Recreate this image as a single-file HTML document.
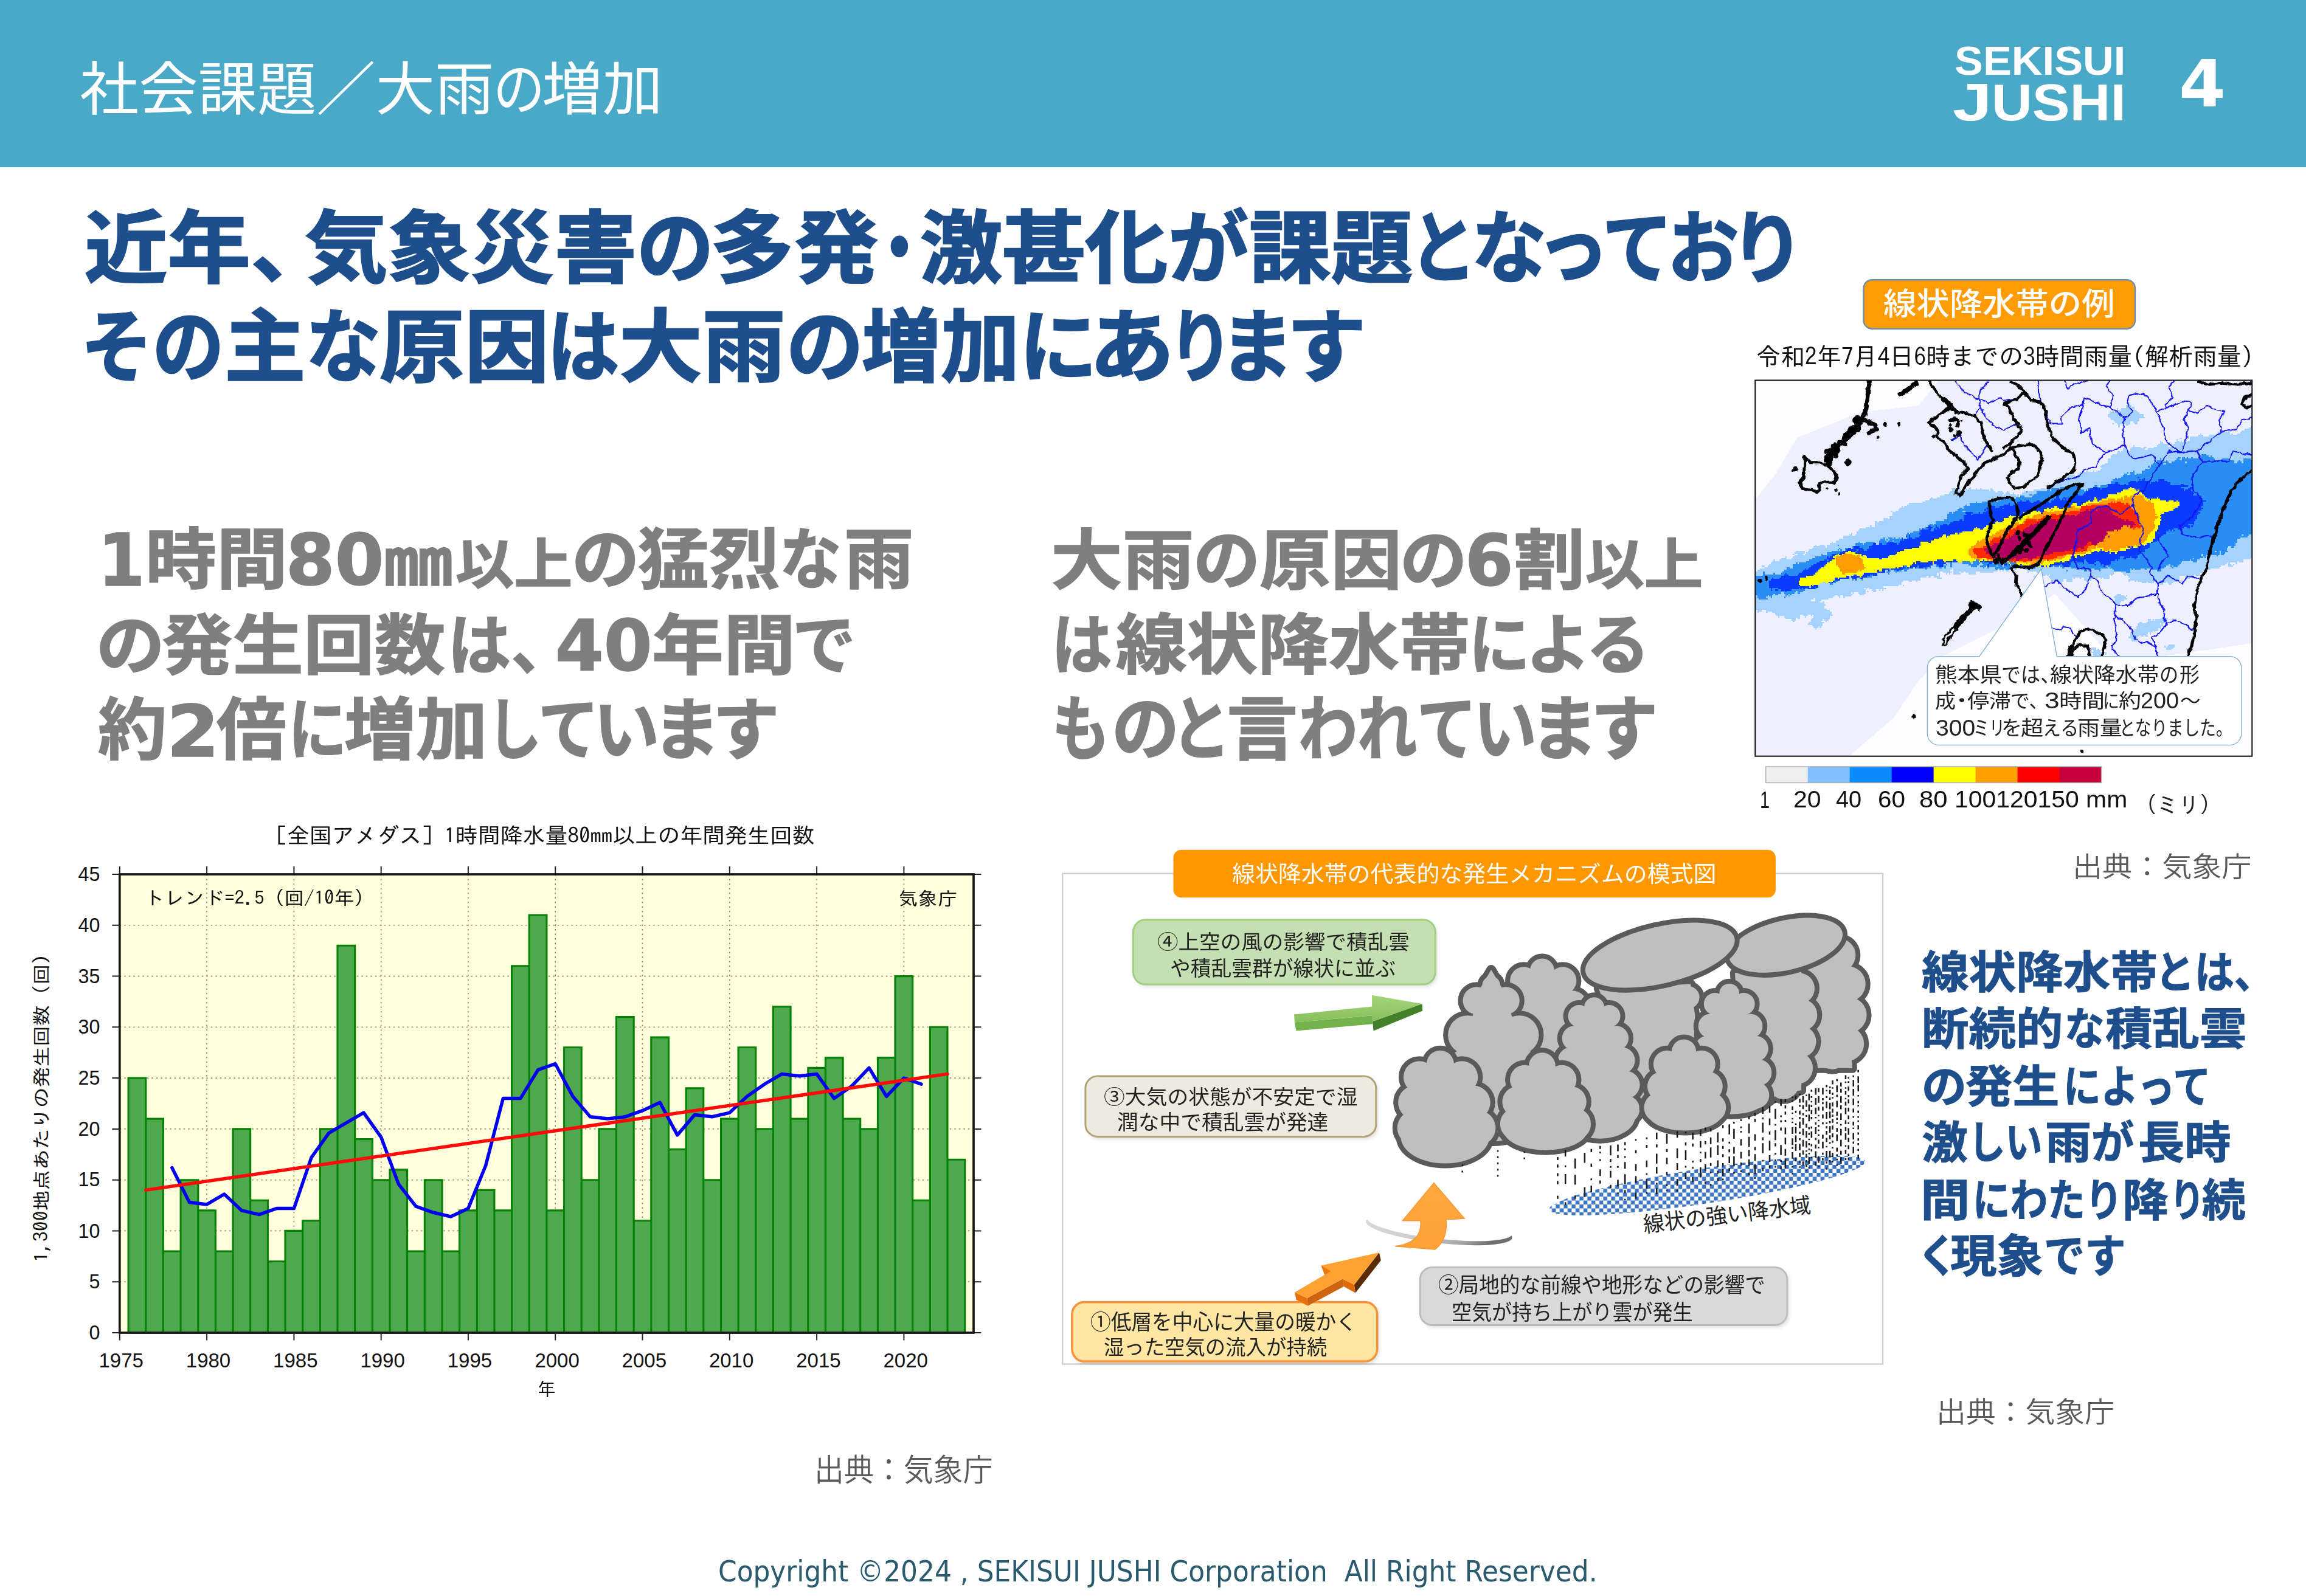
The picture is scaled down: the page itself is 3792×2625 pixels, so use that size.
<!DOCTYPE html>
<html lang="ja"><head><meta charset="utf-8"><title>社会課題／大雨の増加</title>
<style>
html,body{margin:0;padding:0;background:#fff}
body{width:3792px;height:2625px;position:relative;overflow:hidden;font-family:'Liberation Sans','Noto Sans CJK JP',sans-serif}
.t{position:absolute;white-space:nowrap;line-height:1;transform-origin:0 0;display:block}
svg{position:absolute;left:0;top:0;overflow:visible}
.hdr{position:absolute;left:0;top:0;width:3792px;height:275px;background:#4aa9c7}
</style></head>
<body>
<div class="hdr"></div>
<svg width="3792" height="2625" viewBox="0 0 3792 2625">
<rect x="196.8" y="1438.0" width="1404.2" height="754.0" fill="#ffffdc"/>
<path d="M196.8 2108.2H1601.0M196.8 2024.4H1601.0M196.8 1940.7H1601.0M196.8 1856.9H1601.0M196.8 1773.1H1601.0M196.8 1689.3H1601.0M196.8 1605.6H1601.0M196.8 1521.8H1601.0M340.1 1438.0V2192.0M483.4 1438.0V2192.0M626.7 1438.0V2192.0M769.9 1438.0V2192.0M913.2 1438.0V2192.0M1056.5 1438.0V2192.0M1199.8 1438.0V2192.0M1343.1 1438.0V2192.0M1486.4 1438.0V2192.0" stroke="#8c8c78" stroke-width="1.6" stroke-dasharray="2.5 5" fill="none"/>
<path d="M211.1 2192.0V1773.1H239.8V2192.0ZM239.8 2192.0V1840.1H268.4V2192.0ZM268.4 2192.0V2058.0H297.1V2192.0ZM297.1 2192.0V1940.7H325.8V2192.0ZM325.8 2192.0V1990.9H354.4V2192.0ZM354.4 2192.0V2058.0H383.1V2192.0ZM383.1 2192.0V1856.9H411.7V2192.0ZM411.7 2192.0V1974.2H440.4V2192.0ZM440.4 2192.0V2074.7H469.0V2192.0ZM469.0 2192.0V2024.4H497.7V2192.0ZM497.7 2192.0V2007.7H526.4V2192.0ZM526.4 2192.0V1856.9H555.0V2192.0ZM555.0 2192.0V1555.3H583.7V2192.0ZM583.7 2192.0V1873.6H612.3V2192.0ZM612.3 2192.0V1940.7H641.0V2192.0ZM641.0 2192.0V1923.9H669.6V2192.0ZM669.6 2192.0V2058.0H698.3V2192.0ZM698.3 2192.0V1940.7H727.0V2192.0ZM727.0 2192.0V2058.0H755.6V2192.0ZM755.6 2192.0V1990.9H784.3V2192.0ZM784.3 2192.0V1957.4H812.9V2192.0ZM812.9 2192.0V1990.9H841.6V2192.0ZM841.6 2192.0V1588.8H870.2V2192.0ZM870.2 2192.0V1505.0H898.9V2192.0ZM898.9 2192.0V1990.9H927.6V2192.0ZM927.6 2192.0V1722.8H956.2V2192.0ZM956.2 2192.0V1940.7H984.9V2192.0ZM984.9 2192.0V1856.9H1013.5V2192.0ZM1013.5 2192.0V1672.6H1042.2V2192.0ZM1042.2 2192.0V2007.7H1070.8V2192.0ZM1070.8 2192.0V1706.1H1099.5V2192.0ZM1099.5 2192.0V1890.4H1128.2V2192.0ZM1128.2 2192.0V1789.9H1156.8V2192.0ZM1156.8 2192.0V1940.7H1185.5V2192.0ZM1185.5 2192.0V1840.1H1214.1V2192.0ZM1214.1 2192.0V1722.8H1242.8V2192.0ZM1242.8 2192.0V1856.9H1271.4V2192.0ZM1271.4 2192.0V1655.8H1300.1V2192.0ZM1300.1 2192.0V1840.1H1328.8V2192.0ZM1328.8 2192.0V1756.4H1357.4V2192.0ZM1357.4 2192.0V1739.6H1386.1V2192.0ZM1386.1 2192.0V1840.1H1414.7V2192.0ZM1414.7 2192.0V1856.9H1443.4V2192.0ZM1443.4 2192.0V1739.6H1472.0V2192.0ZM1472.0 2192.0V1605.6H1500.7V2192.0ZM1500.7 2192.0V1974.2H1529.4V2192.0ZM1529.4 2192.0V1689.3H1558.0V2192.0ZM1558.0 2192.0V1907.2H1586.7V2192.0Z" fill="#4ea84e" stroke="#058205" stroke-width="3.1" stroke-linejoin="miter"/>
<polyline points="282.8,1920.6 311.4,1977.5 340.1,1980.9 368.7,1964.1 397.4,1990.9 426.1,1997.6 454.7,1987.6 483.4,1987.6 512.0,1903.8 540.7,1863.6 569.3,1846.8 598.0,1830.1 626.7,1870.3 655.3,1947.4 684.0,1984.2 712.6,1994.3 741.3,2001.0 769.9,1987.6 798.6,1917.2 827.3,1806.6 855.9,1806.6 884.6,1759.7 913.2,1749.7 941.9,1803.3 970.5,1836.8 999.2,1840.1 1027.9,1836.8 1056.5,1826.7 1085.2,1813.3 1113.8,1866.9 1142.5,1833.4 1171.1,1836.8 1199.8,1830.1 1228.5,1803.3 1257.1,1783.2 1285.8,1766.4 1314.4,1769.8 1343.1,1766.4 1371.7,1806.6 1400.4,1786.5 1429.1,1756.4 1457.7,1803.3 1486.4,1773.1 1515.0,1783.2" fill="none" stroke="#0000f0" stroke-width="5.5" stroke-linejoin="round" stroke-linecap="round"/>
<line x1="239.8" y1="1957.4" x2="1558.0" y2="1766.4" stroke="#ff0a0a" stroke-width="5.5" stroke-linecap="round"/>
<rect x="196.8" y="1438.0" width="1404.2" height="754.0" fill="none" stroke="#161616" stroke-width="3.7"/>
<path d="M184.3 2192.0H196.8M1601.0 2192.0h12.5M184.3 2108.2H196.8M1601.0 2108.2h12.5M184.3 2024.4H196.8M1601.0 2024.4h12.5M184.3 1940.7H196.8M1601.0 1940.7h12.5M184.3 1856.9H196.8M1601.0 1856.9h12.5M184.3 1773.1H196.8M1601.0 1773.1h12.5M184.3 1689.3H196.8M1601.0 1689.3h12.5M184.3 1605.6H196.8M1601.0 1605.6h12.5M184.3 1521.8H196.8M1601.0 1521.8h12.5M184.3 1438.0H196.8M1601.0 1438.0h12.5M196.8 2192.0v12.5M196.8 1438.0v-13M340.1 2192.0v12.5M340.1 1438.0v-13M483.4 2192.0v12.5M483.4 1438.0v-13M626.7 2192.0v12.5M626.7 1438.0v-13M769.9 2192.0v12.5M769.9 1438.0v-13M913.2 2192.0v12.5M913.2 1438.0v-13M1056.5 2192.0v12.5M1056.5 1438.0v-13M1199.8 2192.0v12.5M1199.8 1438.0v-13M1343.1 2192.0v12.5M1343.1 1438.0v-13M1486.4 2192.0v12.5M1486.4 1438.0v-13" stroke="#222" stroke-width="2" fill="none"/>
</svg>
<svg width="3792" height="2625" viewBox="0 0 3792 2625">
<defs><filter id="rough" x="-5%" y="-5%" width="110%" height="110%"><feTurbulence type="fractalNoise" baseFrequency="0.045" numOctaves="2" seed="4" result="n"/><feDisplacementMap in="SourceGraphic" in2="n" scale="16" xChannelSelector="R" yChannelSelector="G"/></filter><clipPath id="mapclip"><rect x="40" y="38" width="2006" height="1518"/></clipPath></defs>
<g transform="translate(2870 610) scale(0.40728)">
<g clip-path="url(#mapclip)" shape-rendering="crispEdges">
<rect x="40" y="38" width="2006" height="1518" fill="#eff0ff"/>
<path d="M40 38L780 38L700 140L466 167L209 270L120 420L40 520ZM1250 900L1100 1000L800 1150L700 1250L600 1400L420 1556L2046 1556L2046 1100L1500 1180Z" fill="#fdfdff"/>
<path d="M1542 132h12v6h-12zM1536 138h24v6h-24zM1536 144h18v6h-18zM1560 144h12v6h-12zM1500 150h6v6h-6zM1518 150h54v6h-54zM1506 156h6v6h-6zM1518 156h60v6h-60zM1470 162h6v6h-6zM1482 162h6v6h-6zM1494 162h6v6h-6zM1506 162h78v6h-78zM1470 168h120v6h-120zM1464 174h144v6h-144zM1464 180h144v6h-144zM1470 186h144v6h-144zM1476 192h114v6h-114zM1488 198h102v6h-102zM1494 204h60v6h-60zM1566 204h18v6h-18zM1482 210h6v6h-6zM1500 210h24v6h-24zM1530 210h24v6h-24zM1572 210h12v6h-12zM1506 216h6v6h-6zM1536 216h12v6h-12zM1506 222h6v6h-6zM2040 222h12v6h-12zM2034 228h18v6h-18zM2058 228h6v6h-6zM2016 234h54v6h-54zM1950 240h12v6h-12zM2004 240h72v6h-72zM1908 246h48v6h-48zM1998 246h66v6h-66zM1836 252h6v6h-6zM1902 252h54v6h-54zM1962 252h6v6h-6zM1986 252h84v6h-84zM1830 258h18v6h-18zM1872 258h174v6h-174zM2052 258h12v6h-12zM1794 264h252v6h-252zM1752 270h12v6h-12zM1794 270h252v6h-252zM1740 276h6v6h-6zM1776 276h6v6h-6zM1794 276h258v6h-258zM1674 282h6v6h-6zM1740 282h12v6h-12zM1758 282h6v6h-6zM1782 282h282v6h-282zM1674 288h12v6h-12zM1704 288h12v6h-12zM1734 288h330v6h-330zM1668 294h48v6h-48zM1728 294h330v6h-330zM1566 300h6v6h-6zM1662 300h48v6h-48zM1722 300h330v6h-330zM1560 306h36v6h-36zM1608 306h12v6h-12zM1650 306h402v6h-402zM1524 312h18v6h-18zM1554 312h60v6h-60zM1626 312h420v6h-420zM1524 318h24v6h-24zM1554 318h492v6h-492zM1506 324h6v6h-6zM1518 324h528v6h-528zM1500 330h546v6h-546zM1482 336h570v6h-570zM1476 342h576v6h-576zM1476 348h576v6h-576zM1464 354h582v6h-582zM1464 360h588v6h-588zM1464 366h600v6h-600zM1452 372h618v6h-618zM1440 378h630v6h-630zM1434 384h642v6h-642zM1440 390h636v6h-636zM1434 396h636v6h-636zM1362 402h6v6h-6zM1374 402h12v6h-12zM1404 402h6v6h-6zM1422 402h642v6h-642zM2070 402h6v6h-6zM1350 408h720v6h-720zM1344 414h720v6h-720zM2070 414h6v6h-6zM1302 420h30v6h-30zM1338 420h726v6h-726zM1290 426h768v6h-768zM1296 432h750v6h-750zM1260 438h6v6h-6zM1290 438h756v6h-756zM1254 444h792v6h-792zM1242 450h804v6h-804zM1236 456h810v6h-810zM1212 462h12v6h-12zM1230 462h816v6h-816zM906 468h6v6h-6zM1218 468h828v6h-828zM834 474h36v6h-36zM888 474h6v6h-6zM900 474h12v6h-12zM930 474h6v6h-6zM948 474h6v6h-6zM990 474h6v6h-6zM1194 474h858v6h-858zM834 480h36v6h-36zM888 480h96v6h-96zM990 480h12v6h-12zM1164 480h888v6h-888zM828 486h180v6h-180zM1020 486h18v6h-18zM1056 486h6v6h-6zM1128 486h924v6h-924zM822 492h222v6h-222zM1050 492h18v6h-18zM1080 492h6v6h-6zM1116 492h942v6h-942zM804 498h234v6h-234zM1044 498h48v6h-48zM1098 498h6v6h-6zM1110 498h948v6h-948zM786 504h318v6h-318zM1110 504h960v6h-960zM750 510h6v6h-6zM774 510h1296v6h-1296zM744 516h1314v6h-1314zM2070 516h6v6h-6zM726 522h1332v6h-1332zM2070 522h6v6h-6zM714 528h1362v6h-1362zM660 534h1416v6h-1416zM654 540h1392v6h-1392zM2058 540h18v6h-18zM630 546h6v6h-6zM642 546h1410v6h-1410zM2070 546h6v6h-6zM624 552h1428v6h-1428zM2070 552h6v6h-6zM618 558h1440v6h-1440zM2070 558h6v6h-6zM588 564h6v6h-6zM606 564h1452v6h-1452zM594 570h1452v6h-1452zM594 576h1452v6h-1452zM594 582h1458v6h-1458zM582 588h1488v6h-1488zM558 594h18v6h-18zM582 594h1488v6h-1488zM558 600h1500v6h-1500zM522 606h12v6h-12zM540 606h1518v6h-1518zM522 612h1542v6h-1542zM522 618h1530v6h-1530zM504 624h6v6h-6zM522 624h1524v6h-1524zM486 630h1560v6h-1560zM462 636h1596v6h-1596zM456 642h1602v6h-1602zM450 648h1608v6h-1608zM426 654h6v6h-6zM450 654h1602v6h-1602zM420 660h12v6h-12zM444 660h1608v6h-1608zM396 666h1650v6h-1650zM396 672h1650v6h-1650zM2052 672h6v6h-6zM378 678h1674v6h-1674zM366 684h1692v6h-1692zM348 690h6v6h-6zM366 690h1692v6h-1692zM342 696h1716v6h-1716zM282 702h6v6h-6zM300 702h18v6h-18zM330 702h1740v6h-1740zM276 708h48v6h-48zM330 708h1740v6h-1740zM270 714h1800v6h-1800zM258 720h1800v6h-1800zM204 726h36v6h-36zM252 726h1806v6h-1806zM198 732h42v6h-42zM246 732h1812v6h-1812zM192 738h6v6h-6zM210 738h24v6h-24zM240 738h1818v6h-1818zM198 744h1854v6h-1854zM162 750h6v6h-6zM192 750h1860v6h-1860zM144 756h24v6h-24zM186 756h1854v6h-1854zM114 762h6v6h-6zM138 762h1872v6h-1872zM108 768h1878v6h-1878zM1992 768h18v6h-18zM102 774h1842v6h-1842zM1950 774h6v6h-6zM1980 774h6v6h-6zM96 780h1842v6h-1842zM1950 780h12v6h-12zM1968 780h6v6h-6zM66 786h12v6h-12zM90 786h1008v6h-1008zM1104 786h816v6h-816zM1950 786h18v6h-18zM78 792h1020v6h-1020zM1110 792h6v6h-6zM1128 792h786v6h-786zM60 798h774v6h-774zM840 798h240v6h-240zM1086 798h12v6h-12zM1134 798h744v6h-744zM48 804h780v6h-780zM840 804h180v6h-180zM1026 804h6v6h-6zM1038 804h6v6h-6zM1050 804h12v6h-12zM1140 804h726v6h-726zM24 810h6v6h-6zM42 810h744v6h-744zM798 810h36v6h-36zM840 810h24v6h-24zM870 810h12v6h-12zM888 810h42v6h-42zM948 810h54v6h-54zM1140 810h6v6h-6zM1176 810h312v6h-312zM1518 810h330v6h-330zM42 816h732v6h-732zM780 816h6v6h-6zM810 816h6v6h-6zM822 816h6v6h-6zM840 816h30v6h-30zM900 816h30v6h-30zM1188 816h300v6h-300zM1524 816h312v6h-312zM42 822h732v6h-732zM780 822h6v6h-6zM1194 822h18v6h-18zM1218 822h6v6h-6zM1230 822h240v6h-240zM1476 822h6v6h-6zM1530 822h6v6h-6zM1542 822h270v6h-270zM1818 822h18v6h-18zM42 828h690v6h-690zM738 828h12v6h-12zM762 828h24v6h-24zM1164 828h6v6h-6zM1176 828h6v6h-6zM1224 828h246v6h-246zM1548 828h204v6h-204zM1776 828h24v6h-24zM36 834h672v6h-672zM774 834h18v6h-18zM1230 834h90v6h-90zM1326 834h6v6h-6zM1350 834h6v6h-6zM1368 834h36v6h-36zM1416 834h6v6h-6zM1434 834h6v6h-6zM1446 834h24v6h-24zM1554 834h198v6h-198zM1776 834h18v6h-18zM30 840h678v6h-678zM1236 840h48v6h-48zM1296 840h24v6h-24zM1368 840h30v6h-30zM1548 840h204v6h-204zM1770 840h12v6h-12zM24 846h612v6h-612zM660 846h12v6h-12zM690 846h6v6h-6zM1236 846h6v6h-6zM1248 846h36v6h-36zM1296 846h24v6h-24zM1374 846h12v6h-12zM1548 846h6v6h-6zM1572 846h6v6h-6zM1584 846h162v6h-162zM1758 846h12v6h-12zM24 852h606v6h-606zM1266 852h12v6h-12zM1602 852h18v6h-18zM1626 852h24v6h-24zM1662 852h36v6h-36zM1704 852h24v6h-24zM24 858h606v6h-606zM1662 858h6v6h-6zM1674 858h12v6h-12zM1710 858h12v6h-12zM18 864h600v6h-600zM636 864h6v6h-6zM18 870h540v6h-540zM18 876h462v6h-462zM486 876h6v6h-6zM498 876h72v6h-72zM18 882h6v6h-6zM30 882h456v6h-456zM510 882h18v6h-18zM540 882h6v6h-6zM552 882h6v6h-6zM30 888h456v6h-456zM492 888h6v6h-6zM516 888h12v6h-12zM18 894h408v6h-408zM432 894h6v6h-6zM456 894h30v6h-30zM36 900h396v6h-396zM462 900h18v6h-18zM1500 900h18v6h-18zM36 906h324v6h-324zM372 906h12v6h-12zM396 906h30v6h-30zM1494 906h36v6h-36zM1536 906h6v6h-6zM36 912h318v6h-318zM378 912h6v6h-6zM396 912h6v6h-6zM1488 912h48v6h-48zM36 918h240v6h-240zM282 918h54v6h-54zM1494 918h48v6h-48zM18 924h12v6h-12zM36 924h228v6h-228zM282 924h24v6h-24zM1494 924h36v6h-36zM18 930h282v6h-282zM312 930h6v6h-6zM1494 930h24v6h-24zM18 936h300v6h-300zM1494 936h18v6h-18zM18 942h306v6h-306zM24 948h294v6h-294zM18 954h300v6h-300zM30 960h300v6h-300zM48 966h18v6h-18zM84 966h258v6h-258zM48 972h6v6h-6zM84 972h6v6h-6zM108 972h240v6h-240zM120 978h228v6h-228zM126 984h96v6h-96zM234 984h18v6h-18zM264 984h6v6h-6zM276 984h78v6h-78zM132 990h6v6h-6zM156 990h66v6h-66zM240 990h6v6h-6zM276 990h66v6h-66zM162 996h42v6h-42zM210 996h12v6h-12zM270 996h72v6h-72zM1680 996h24v6h-24zM186 1002h18v6h-18zM264 1002h48v6h-48zM318 1002h18v6h-18zM1626 1002h12v6h-12zM1644 1002h6v6h-6zM1656 1002h48v6h-48zM192 1008h6v6h-6zM264 1008h42v6h-42zM324 1008h6v6h-6zM1626 1008h78v6h-78zM258 1014h60v6h-60zM1590 1014h12v6h-12zM1620 1014h84v6h-84zM252 1020h60v6h-60zM1584 1020h90v6h-90zM1680 1020h6v6h-6zM270 1026h42v6h-42zM1584 1026h102v6h-102zM276 1032h18v6h-18zM300 1032h6v6h-6zM1578 1032h102v6h-102zM282 1038h6v6h-6zM1578 1038h90v6h-90zM1674 1038h6v6h-6zM1572 1044h96v6h-96zM1680 1044h6v6h-6zM1566 1050h78v6h-78zM1650 1050h6v6h-6zM1554 1056h72v6h-72zM1632 1056h6v6h-6zM1554 1062h66v6h-66zM1554 1068h36v6h-36zM1596 1068h12v6h-12zM1614 1068h12v6h-12zM1548 1074h36v6h-36zM1560 1080h24v6h-24zM1560 1086h24v6h-24zM1710 1104h24v6h-24zM1692 1110h6v6h-6zM1704 1110h30v6h-30zM1398 1116h18v6h-18zM1698 1116h30v6h-30zM1398 1122h18v6h-18zM1422 1122h6v6h-6zM1698 1122h24v6h-24zM1392 1128h6v6h-6zM1404 1128h30v6h-30zM1398 1134h60v6h-60zM1386 1140h6v6h-6zM1404 1140h36v6h-36zM1452 1140h6v6h-6zM1404 1146h36v6h-36zM1404 1152h36v6h-36zM1404 1158h18v6h-18zM1434 1158h12v6h-12z" fill="#a6d2ff"/>
<path d="M1842 336h18v6h-18zM1842 342h30v6h-30zM1878 342h6v6h-6zM1746 348h12v6h-12zM1764 348h12v6h-12zM1782 348h6v6h-6zM1800 348h6v6h-6zM1830 348h60v6h-60zM1674 354h6v6h-6zM1740 354h12v6h-12zM1764 354h132v6h-132zM1926 354h30v6h-30zM2010 354h30v6h-30zM1662 360h24v6h-24zM1698 360h6v6h-6zM1734 360h240v6h-240zM1992 360h6v6h-6zM2010 360h42v6h-42zM1650 366h6v6h-6zM1662 366h48v6h-48zM1722 366h54v6h-54zM1782 366h192v6h-192zM1986 366h18v6h-18zM2010 366h54v6h-54zM1644 372h42v6h-42zM1698 372h366v6h-366zM1638 378h420v6h-420zM1626 384h6v6h-6zM1638 384h420v6h-420zM1632 390h438v6h-438zM1614 396h456v6h-456zM1566 402h6v6h-6zM1602 402h462v6h-462zM1542 408h6v6h-6zM1554 408h18v6h-18zM1602 408h450v6h-450zM1530 414h12v6h-12zM1554 414h18v6h-18zM1578 414h468v6h-468zM1524 420h522v6h-522zM1518 426h528v6h-528zM2052 426h6v6h-6zM1494 432h6v6h-6zM1506 432h540v6h-540zM1482 438h564v6h-564zM1476 444h570v6h-570zM1476 450h570v6h-570zM1458 456h588v6h-588zM1320 462h24v6h-24zM1410 462h12v6h-12zM1434 462h612v6h-612zM1272 468h30v6h-30zM1308 468h42v6h-42zM1404 468h642v6h-642zM1236 474h30v6h-30zM1272 474h84v6h-84zM1386 474h666v6h-666zM1218 480h12v6h-12zM1236 480h132v6h-132zM1374 480h6v6h-6zM1386 480h666v6h-666zM1134 486h6v6h-6zM1176 486h876v6h-876zM1176 492h882v6h-882zM1146 498h12v6h-12zM1164 498h894v6h-894zM1110 504h18v6h-18zM1158 504h900v6h-900zM1092 510h972v6h-972zM1032 516h1026v6h-1026zM978 522h6v6h-6zM1020 522h1038v6h-1038zM930 528h6v6h-6zM954 528h1110v6h-1110zM906 534h1152v6h-1152zM888 540h6v6h-6zM906 540h1140v6h-1140zM882 546h1170v6h-1170zM864 552h12v6h-12zM882 552h1170v6h-1170zM858 558h1200v6h-1200zM846 564h30v6h-30zM888 564h1170v6h-1170zM822 570h12v6h-12zM840 570h1206v6h-1206zM816 576h1230v6h-1230zM816 582h1236v6h-1236zM816 588h1254v6h-1254zM816 594h1248v6h-1248zM804 600h1254v6h-1254zM768 606h1290v6h-1290zM768 612h1296v6h-1296zM744 618h12v6h-12zM762 618h1290v6h-1290zM738 624h1308v6h-1308zM726 630h1320v6h-1320zM702 636h6v6h-6zM714 636h1344v6h-1344zM702 642h1350v6h-1350zM678 648h1368v6h-1368zM654 654h6v6h-6zM666 654h1386v6h-1386zM648 660h1356v6h-1356zM2010 660h24v6h-24zM2046 660h6v6h-6zM648 666h1380v6h-1380zM558 672h6v6h-6zM576 672h18v6h-18zM600 672h6v6h-6zM618 672h6v6h-6zM630 672h6v6h-6zM654 672h1344v6h-1344zM546 678h18v6h-18zM570 678h6v6h-6zM582 678h1404v6h-1404zM540 684h30v6h-30zM576 684h18v6h-18zM600 684h1386v6h-1386zM456 690h6v6h-6zM486 690h36v6h-36zM540 690h1446v6h-1446zM444 696h30v6h-30zM480 696h48v6h-48zM540 696h1440v6h-1440zM372 702h6v6h-6zM444 702h1536v6h-1536zM432 708h1518v6h-1518zM1962 708h12v6h-12zM378 714h6v6h-6zM402 714h24v6h-24zM432 714h1512v6h-1512zM372 720h6v6h-6zM384 720h6v6h-6zM402 720h1542v6h-1542zM348 726h1548v6h-1548zM1902 726h12v6h-12zM1920 726h30v6h-30zM330 732h1584v6h-1584zM1920 732h18v6h-18zM306 738h6v6h-6zM330 738h1512v6h-1512zM1848 738h66v6h-66zM1920 738h12v6h-12zM306 744h1536v6h-1536zM1848 744h12v6h-12zM1866 744h6v6h-6zM1902 744h6v6h-6zM282 750h1566v6h-1566zM1854 750h6v6h-6zM270 756h1536v6h-1536zM1812 756h24v6h-24zM258 762h1536v6h-1536zM1800 762h24v6h-24zM246 768h1518v6h-1518zM1806 768h18v6h-18zM204 774h6v6h-6zM216 774h594v6h-594zM828 774h6v6h-6zM876 774h36v6h-36zM918 774h30v6h-30zM954 774h48v6h-48zM1008 774h36v6h-36zM1050 774h708v6h-708zM192 780h564v6h-564zM768 780h36v6h-36zM810 780h6v6h-6zM828 780h6v6h-6zM900 780h42v6h-42zM960 780h78v6h-78zM1044 780h138v6h-138zM1194 780h516v6h-516zM1716 780h36v6h-36zM192 786h558v6h-558zM768 786h42v6h-42zM828 786h6v6h-6zM912 786h24v6h-24zM948 786h24v6h-24zM978 786h36v6h-36zM1020 786h18v6h-18zM1044 786h54v6h-54zM1104 786h72v6h-72zM1188 786h54v6h-54zM1248 786h18v6h-18zM1272 786h186v6h-186zM1464 786h234v6h-234zM1716 786h6v6h-6zM1728 786h18v6h-18zM168 792h12v6h-12zM192 792h486v6h-486zM684 792h54v6h-54zM744 792h6v6h-6zM780 792h12v6h-12zM804 792h6v6h-6zM960 792h6v6h-6zM978 792h6v6h-6zM1008 792h84v6h-84zM1110 792h6v6h-6zM1134 792h36v6h-36zM1278 792h12v6h-12zM1314 792h150v6h-150zM1470 792h222v6h-222zM1722 792h6v6h-6zM168 798h414v6h-414zM588 798h72v6h-72zM726 798h6v6h-6zM1008 798h12v6h-12zM1026 798h18v6h-18zM1050 798h18v6h-18zM1140 798h6v6h-6zM1338 798h12v6h-12zM1356 798h42v6h-42zM1410 798h24v6h-24zM1482 798h72v6h-72zM1560 798h6v6h-6zM1572 798h24v6h-24zM1614 798h6v6h-6zM1638 798h42v6h-42zM156 804h408v6h-408zM576 804h12v6h-12zM600 804h30v6h-30zM642 804h12v6h-12zM1296 804h6v6h-6zM1368 804h12v6h-12zM1428 804h6v6h-6zM1488 804h66v6h-66zM1662 804h18v6h-18zM72 810h6v6h-6zM150 810h414v6h-414zM570 810h12v6h-12zM606 810h6v6h-6zM1536 810h18v6h-18zM72 816h6v6h-6zM114 816h6v6h-6zM144 816h390v6h-390zM576 816h6v6h-6zM72 822h462v6h-462zM42 828h378v6h-378zM426 828h84v6h-84zM42 834h378v6h-378zM432 834h18v6h-18zM462 834h12v6h-12zM30 840h354v6h-354zM432 840h6v6h-6zM444 840h6v6h-6zM468 840h6v6h-6zM24 846h348v6h-348zM24 852h288v6h-288zM324 852h42v6h-42zM24 858h276v6h-276zM342 858h12v6h-12zM30 864h264v6h-264zM18 870h240v6h-240zM264 870h30v6h-30zM24 876h264v6h-264zM18 882h6v6h-6zM30 882h210v6h-210zM36 888h168v6h-168zM210 888h24v6h-24zM36 894h108v6h-108zM156 894h42v6h-42zM210 894h12v6h-12zM36 900h78v6h-78zM120 900h12v6h-12zM162 900h12v6h-12zM180 900h6v6h-6zM36 906h6v6h-6zM48 906h42v6h-42zM96 906h12v6h-12zM162 906h6v6h-6zM174 906h6v6h-6zM48 912h36v6h-36zM102 912h6v6h-6zM156 912h6v6h-6zM54 918h36v6h-36z" fill="#2a8cf5"/>
<path d="M1584 426h6v6h-6zM1608 432h6v6h-6zM1590 438h6v6h-6zM1602 438h12v6h-12zM1668 438h24v6h-24zM1554 444h24v6h-24zM1584 444h48v6h-48zM1656 444h6v6h-6zM1668 444h36v6h-36zM1494 450h12v6h-12zM1548 450h84v6h-84zM1638 450h78v6h-78zM1464 456h48v6h-48zM1530 456h6v6h-6zM1548 456h168v6h-168zM1758 456h12v6h-12zM1464 462h324v6h-324zM1404 468h18v6h-18zM1458 468h300v6h-300zM1794 468h12v6h-12zM1392 474h42v6h-42zM1440 474h330v6h-330zM1788 474h18v6h-18zM1386 480h384v6h-384zM1776 480h24v6h-24zM1806 480h6v6h-6zM1374 486h432v6h-432zM1326 492h18v6h-18zM1368 492h444v6h-444zM1326 498h18v6h-18zM1362 498h444v6h-444zM1254 504h12v6h-12zM1320 504h510v6h-510zM1836 504h6v6h-6zM1254 510h12v6h-12zM1284 510h12v6h-12zM1302 510h540v6h-540zM1248 516h24v6h-24zM1278 516h6v6h-6zM1290 516h6v6h-6zM1302 516h540v6h-540zM1110 522h6v6h-6zM1134 522h12v6h-12zM1176 522h12v6h-12zM1212 522h6v6h-6zM1236 522h624v6h-624zM1098 528h54v6h-54zM1164 528h42v6h-42zM1212 528h12v6h-12zM1236 528h612v6h-612zM1062 534h6v6h-6zM1098 534h750v6h-750zM1044 540h24v6h-24zM1080 540h768v6h-768zM990 546h18v6h-18zM1026 546h816v6h-816zM972 552h66v6h-66zM1044 552h804v6h-804zM966 558h6v6h-6zM978 558h864v6h-864zM972 564h858v6h-858zM888 570h30v6h-30zM942 570h6v6h-6zM960 570h876v6h-876zM894 576h18v6h-18zM918 576h912v6h-912zM882 582h942v6h-942zM882 588h942v6h-942zM882 594h942v6h-942zM864 600h12v6h-12zM882 600h936v6h-936zM840 606h972v6h-972zM828 612h984v6h-984zM798 618h18v6h-18zM822 618h966v6h-966zM1806 618h6v6h-6zM738 624h12v6h-12zM768 624h6v6h-6zM786 624h1008v6h-1008zM1800 624h6v6h-6zM732 630h24v6h-24zM768 630h12v6h-12zM786 630h984v6h-984zM1782 630h12v6h-12zM714 636h6v6h-6zM738 636h12v6h-12zM762 636h6v6h-6zM774 636h954v6h-954zM1746 636h6v6h-6zM1758 636h6v6h-6zM708 642h42v6h-42zM762 642h948v6h-948zM1716 642h6v6h-6zM1728 642h6v6h-6zM708 648h990v6h-990zM702 654h996v6h-996zM660 660h6v6h-6zM708 660h978v6h-978zM648 666h6v6h-6zM660 666h6v6h-6zM702 666h978v6h-978zM630 672h6v6h-6zM660 672h12v6h-12zM684 672h984v6h-984zM630 678h6v6h-6zM642 678h1026v6h-1026zM624 684h1038v6h-1038zM576 690h24v6h-24zM624 690h1020v6h-1020zM516 696h12v6h-12zM540 696h12v6h-12zM570 696h42v6h-42zM618 696h1014v6h-1014zM510 702h1122v6h-1122zM438 708h24v6h-24zM498 708h1134v6h-1134zM414 714h12v6h-12zM438 714h36v6h-36zM498 714h1128v6h-1128zM408 720h42v6h-42zM456 720h24v6h-24zM492 720h1122v6h-1122zM396 726h48v6h-48zM450 726h1164v6h-1164zM384 732h1212v6h-1212zM348 738h18v6h-18zM372 738h1218v6h-1218zM348 744h1236v6h-1236zM330 750h6v6h-6zM342 750h1170v6h-1170zM1530 750h24v6h-24zM1560 750h24v6h-24zM330 756h1182v6h-1182zM1524 756h12v6h-12zM1572 756h6v6h-6zM318 762h12v6h-12zM336 762h594v6h-594zM942 762h426v6h-426zM1374 762h120v6h-120zM1500 762h6v6h-6zM300 768h534v6h-534zM840 768h36v6h-36zM906 768h12v6h-12zM942 768h18v6h-18zM966 768h96v6h-96zM1074 768h246v6h-246zM1338 768h30v6h-30zM1380 768h36v6h-36zM1428 768h48v6h-48zM288 774h522v6h-522zM984 774h12v6h-12zM1014 774h6v6h-6zM1050 774h6v6h-6zM1062 774h6v6h-6zM1092 774h222v6h-222zM1362 774h6v6h-6zM1386 774h24v6h-24zM1434 774h42v6h-42zM276 780h480v6h-480zM774 780h24v6h-24zM978 780h6v6h-6zM1044 780h12v6h-12zM1062 780h12v6h-12zM1092 780h90v6h-90zM1194 780h78v6h-78zM1278 780h36v6h-36zM1410 780h6v6h-6zM1434 780h6v6h-6zM1446 780h24v6h-24zM264 786h378v6h-378zM654 786h42v6h-42zM702 786h42v6h-42zM780 786h18v6h-18zM978 786h6v6h-6zM1092 786h6v6h-6zM1104 786h6v6h-6zM1116 786h12v6h-12zM1140 786h30v6h-30zM1188 786h48v6h-48zM1284 786h24v6h-24zM1446 786h6v6h-6zM258 792h390v6h-390zM654 792h6v6h-6zM666 792h12v6h-12zM684 792h6v6h-6zM702 792h18v6h-18zM726 792h6v6h-6zM1110 792h6v6h-6zM1152 792h18v6h-18zM240 798h6v6h-6zM252 798h330v6h-330zM588 798h48v6h-48zM234 804h330v6h-330zM576 804h6v6h-6zM612 804h6v6h-6zM228 810h336v6h-336zM162 816h6v6h-6zM216 816h318v6h-318zM156 822h18v6h-18zM210 822h294v6h-294zM516 822h18v6h-18zM144 828h276v6h-276zM426 828h66v6h-66zM108 834h6v6h-6zM138 834h282v6h-282zM432 834h18v6h-18zM462 834h12v6h-12zM102 840h282v6h-282zM444 840h6v6h-6zM96 846h264v6h-264zM96 852h216v6h-216zM324 852h18v6h-18zM348 852h6v6h-6zM96 858h204v6h-204zM96 864h198v6h-198zM96 870h162v6h-162zM264 870h30v6h-30zM102 876h6v6h-6zM132 876h84v6h-84zM222 876h6v6h-6zM234 876h6v6h-6zM252 876h30v6h-30zM102 882h6v6h-6zM120 882h12v6h-12zM144 882h42v6h-42zM162 888h6v6h-6z" fill="#0a3cff"/>
<path d="M1554 468h6v6h-6zM1548 474h24v6h-24zM1524 480h54v6h-54zM1584 480h6v6h-6zM1518 486h78v6h-78zM1500 492h102v6h-102zM1464 498h144v6h-144zM1464 504h150v6h-150zM1410 510h6v6h-6zM1458 510h162v6h-162zM1662 510h6v6h-6zM1410 516h12v6h-12zM1440 516h192v6h-192zM1638 516h36v6h-36zM1386 522h6v6h-6zM1404 522h18v6h-18zM1428 522h270v6h-270zM1710 522h18v6h-18zM1740 522h6v6h-6zM1374 528h378v6h-378zM1320 534h18v6h-18zM1362 534h390v6h-390zM1314 540h24v6h-24zM1356 540h396v6h-396zM1248 546h12v6h-12zM1314 546h432v6h-432zM1218 552h6v6h-6zM1236 552h30v6h-30zM1284 552h450v6h-450zM1206 558h522v6h-522zM1158 564h18v6h-18zM1182 564h6v6h-6zM1206 564h504v6h-504zM1122 570h6v6h-6zM1152 570h42v6h-42zM1200 570h492v6h-492zM1140 576h540v6h-540zM1068 582h6v6h-6zM1122 582h552v6h-552zM1062 588h618v6h-618zM1044 594h630v6h-630zM1044 600h636v6h-636zM1014 606h6v6h-6zM1038 606h636v6h-636zM1008 612h666v6h-666zM984 618h690v6h-690zM972 624h696v6h-696zM930 630h6v6h-6zM966 630h702v6h-702zM924 636h24v6h-24zM960 636h708v6h-708zM918 642h744v6h-744zM876 648h780v6h-780zM846 654h12v6h-12zM864 654h792v6h-792zM798 660h12v6h-12zM828 660h828v6h-828zM792 666h18v6h-18zM816 666h840v6h-840zM780 672h876v6h-876zM762 678h882v6h-882zM750 684h894v6h-894zM708 690h30v6h-30zM750 690h888v6h-888zM708 696h912v6h-912zM708 702h888v6h-888zM1608 702h6v6h-6zM702 708h846v6h-846zM1554 708h6v6h-6zM1566 708h18v6h-18zM672 714h882v6h-882zM642 720h792v6h-792zM1440 720h96v6h-96zM414 726h12v6h-12zM624 726h786v6h-786zM1422 726h6v6h-6zM1452 726h12v6h-12zM1470 726h36v6h-36zM402 732h42v6h-42zM612 732h786v6h-786zM1470 732h6v6h-6zM1494 732h6v6h-6zM372 738h6v6h-6zM390 738h78v6h-78zM606 738h768v6h-768zM360 744h108v6h-108zM474 744h12v6h-12zM582 744h756v6h-756zM1350 744h18v6h-18zM354 750h138v6h-138zM576 750h738v6h-738zM1332 750h6v6h-6zM360 756h180v6h-180zM552 756h762v6h-762zM348 762h426v6h-426zM798 762h42v6h-42zM852 762h78v6h-78zM942 762h18v6h-18zM966 762h342v6h-342zM342 768h348v6h-348zM708 768h30v6h-30zM756 768h6v6h-6zM804 768h6v6h-6zM858 768h18v6h-18zM906 768h12v6h-12zM942 768h6v6h-6zM1020 768h42v6h-42zM1074 768h198v6h-198zM1278 768h12v6h-12zM330 774h348v6h-348zM684 774h6v6h-6zM756 774h6v6h-6zM1062 774h6v6h-6zM1092 774h156v6h-156zM324 780h348v6h-348zM1068 780h6v6h-6zM1092 780h18v6h-18zM1116 780h66v6h-66zM1194 780h36v6h-36zM318 786h318v6h-318zM654 786h12v6h-12zM1164 786h6v6h-6zM1188 786h6v6h-6zM1206 786h6v6h-6zM1218 786h6v6h-6zM306 792h300v6h-300zM612 792h6v6h-6zM300 798h252v6h-252zM294 804h240v6h-240zM540 804h12v6h-12zM288 810h246v6h-246zM282 816h198v6h-198zM276 822h162v6h-162zM450 822h24v6h-24zM246 828h162v6h-162zM462 828h6v6h-6zM222 834h138v6h-138zM372 834h6v6h-6zM222 840h138v6h-138zM216 846h138v6h-138zM216 852h96v6h-96zM324 852h12v6h-12zM216 858h84v6h-84zM222 864h42v6h-42zM270 864h6v6h-6z" fill="#ffff00"/>
<path d="M1566 498h12v6h-12zM1590 498h6v6h-6zM1530 504h12v6h-12zM1554 504h54v6h-54zM1518 510h6v6h-6zM1530 510h78v6h-78zM1464 516h30v6h-30zM1500 516h24v6h-24zM1530 516h84v6h-84zM1440 522h180v6h-180zM1626 522h6v6h-6zM1428 528h210v6h-210zM1386 534h264v6h-264zM1374 540h276v6h-276zM1314 546h18v6h-18zM1356 546h294v6h-294zM1290 552h360v6h-360zM1236 558h6v6h-6zM1284 558h372v6h-372zM1206 564h12v6h-12zM1230 564h6v6h-6zM1248 564h408v6h-408zM1200 570h456v6h-456zM1176 576h486v6h-486zM1164 582h492v6h-492zM1140 588h6v6h-6zM1158 588h510v6h-510zM1134 594h528v6h-528zM1128 600h528v6h-528zM1122 606h528v6h-528zM1074 612h6v6h-6zM1086 612h18v6h-18zM1116 612h534v6h-534zM1074 618h582v6h-582zM1074 624h582v6h-582zM1050 630h6v6h-6zM1068 630h588v6h-588zM1044 636h606v6h-606zM1026 642h618v6h-618zM1014 648h624v6h-624zM1008 654h624v6h-624zM996 660h630v6h-630zM984 666h642v6h-642zM978 672h642v6h-642zM954 678h666v6h-666zM936 684h6v6h-6zM948 684h666v6h-666zM936 690h672v6h-672zM930 696h672v6h-672zM924 702h648v6h-648zM1578 702h12v6h-12zM912 708h504v6h-504zM1422 708h114v6h-114zM1542 708h6v6h-6zM1554 708h6v6h-6zM906 714h510v6h-510zM1446 714h66v6h-66zM900 720h498v6h-498zM1446 720h24v6h-24zM1476 720h36v6h-36zM900 726h486v6h-486zM1392 726h6v6h-6zM402 732h6v6h-6zM900 732h474v6h-474zM396 738h36v6h-36zM456 738h6v6h-6zM900 738h420v6h-420zM384 744h60v6h-60zM450 744h12v6h-12zM906 744h390v6h-390zM366 750h96v6h-96zM912 750h378v6h-378zM366 756h102v6h-102zM924 756h30v6h-30zM972 756h306v6h-306zM366 762h108v6h-108zM942 762h6v6h-6zM978 762h6v6h-6zM990 762h222v6h-222zM1218 762h24v6h-24zM1248 762h6v6h-6zM366 768h108v6h-108zM1020 768h6v6h-6zM1074 768h132v6h-132zM1224 768h6v6h-6zM366 774h108v6h-108zM1092 774h6v6h-6zM1134 774h6v6h-6zM1152 774h30v6h-30zM1194 774h6v6h-6zM366 780h114v6h-114zM1146 780h30v6h-30zM372 786h108v6h-108zM378 792h108v6h-108zM384 798h96v6h-96zM384 804h72v6h-72zM462 804h6v6h-6zM390 810h60v6h-60zM390 816h12v6h-12z" fill="#ff9d00"/>
<path d="M1476 528h6v6h-6zM1488 528h6v6h-6zM1500 528h18v6h-18zM1464 534h66v6h-66zM1536 534h12v6h-12zM1374 540h6v6h-6zM1398 540h156v6h-156zM1356 546h198v6h-198zM1356 552h204v6h-204zM1350 558h216v6h-216zM1290 564h6v6h-6zM1308 564h270v6h-270zM1284 570h294v6h-294zM1236 576h18v6h-18zM1266 576h318v6h-318zM1230 582h354v6h-354zM1200 588h390v6h-390zM1194 594h396v6h-396zM1134 600h42v6h-42zM1182 600h408v6h-408zM1128 606h462v6h-462zM1128 612h462v6h-462zM1110 618h480v6h-480zM1098 624h426v6h-426zM1542 624h6v6h-6zM1554 624h48v6h-48zM1092 630h426v6h-426zM1554 630h24v6h-24zM1584 630h12v6h-12zM1062 636h12v6h-12zM1080 636h438v6h-438zM1566 636h6v6h-6zM1062 642h426v6h-426zM1500 642h6v6h-6zM1044 648h6v6h-6zM1062 648h396v6h-396zM1050 654h414v6h-414zM1038 660h420v6h-420zM1026 666h6v6h-6zM1038 666h414v6h-414zM1464 666h6v6h-6zM1002 672h450v6h-450zM996 678h450v6h-450zM990 684h456v6h-456zM990 690h438v6h-438zM984 696h438v6h-438zM972 702h426v6h-426zM1410 702h6v6h-6zM960 708h426v6h-426zM924 714h456v6h-456zM918 720h462v6h-462zM918 726h432v6h-432zM1356 726h6v6h-6zM924 732h408v6h-408zM930 738h366v6h-366zM936 744h348v6h-348zM936 750h324v6h-324zM978 756h270v6h-270zM1002 762h36v6h-36zM1056 762h102v6h-102zM1218 762h6v6h-6zM1074 768h6v6h-6zM1086 768h6v6h-6zM1122 768h12v6h-12z" fill="#ff2a00"/>
<path d="M1428 546h6v6h-6zM1440 546h30v6h-30zM1428 552h48v6h-48zM1374 558h12v6h-12zM1392 558h24v6h-24zM1422 558h54v6h-54zM1368 564h108v6h-108zM1350 570h132v6h-132zM1344 576h138v6h-138zM1284 582h24v6h-24zM1314 582h18v6h-18zM1338 582h156v6h-156zM1272 588h234v6h-234zM1272 594h246v6h-246zM1200 600h12v6h-12zM1218 600h36v6h-36zM1260 600h270v6h-270zM1536 600h12v6h-12zM1188 606h378v6h-378zM1176 612h396v6h-396zM1152 618h6v6h-6zM1164 618h414v6h-414zM1146 624h378v6h-378zM1542 624h6v6h-6zM1554 624h12v6h-12zM1134 630h384v6h-384zM1554 630h6v6h-6zM1128 636h390v6h-390zM1122 642h366v6h-366zM1500 642h6v6h-6zM1092 648h366v6h-366zM1086 654h378v6h-378zM1080 660h378v6h-378zM1062 666h6v6h-6zM1074 666h378v6h-378zM1464 666h6v6h-6zM1062 672h390v6h-390zM1044 678h402v6h-402zM1038 684h408v6h-408zM1026 690h360v6h-360zM1398 690h30v6h-30zM1002 696h378v6h-378zM1398 696h24v6h-24zM996 702h378v6h-378zM984 708h384v6h-384zM966 714h378v6h-378zM1356 714h12v6h-12zM966 720h348v6h-348zM1320 720h6v6h-6zM1332 720h6v6h-6zM972 726h318v6h-318zM1326 726h6v6h-6zM972 732h270v6h-270zM984 738h240v6h-240zM990 744h216v6h-216zM1008 750h168v6h-168zM1020 756h12v6h-12zM1038 756h12v6h-12zM1056 756h30v6h-30zM1092 756h24v6h-24zM1140 756h18v6h-18zM1092 762h12v6h-12zM1152 762h6v6h-6z" fill="#b4005f"/>
</g>
<g clip-path="url(#mapclip)"><g filter="url(#rough)" fill="none" stroke-linejoin="round" stroke-linecap="round">
<path d="M1183 40L1188 105L1208 150L1233 215L1278 215L1273 185L1313 150L1363 135L1368 110L1473 150L1533 190L1563 165L1543 125L1548 100L1583 90L1623 100L1663 165L1698 150L1693 135L1728 105L1708 65L1733 40M1363 135L1348 200L1358 250L1388 235L1403 300L1443 320L1458 330L1428 360L1413 390L1383 390M1473 150L1483 100L1458 60L1473 40M1533 190L1523 250L1533 300L1458 330M1533 300L1548 340L1573 355L1643 340L1673 380L1693 350L1713 325L1753 330L1823 325L1838 350L1843 365L1953 365L1973 325L2023 335L2046 340M1663 165L1688 230L1703 290L1743 320L1753 330M1698 150L1733 135L1783 120L1803 130L1788 160L1773 200L1788 235L1778 280L1763 320M1788 160L1823 170L1863 140L1903 160L1938 165L1913 200L1923 245L1823 325M1923 245L1983 235L2003 200L2046 190M1673 380L1643 425L1618 460L1613 480L1568 500L1563 540L1588 600L1608 650L1593 690L1593 730L1613 750L1633 780L1643 798L1633 810L1643 828L1668 863L1663 898L1673 943L1693 963L1688 998L1703 1018L1733 1008L1768 1018L1803 1048L1813 1043M1843 365L1823 400L1803 430L1808 480L1843 520L1823 565L1793 600L1753 625L1763 660L1823 675L1863 665L1893 670M1393 575L1413 555L1458 545L1493 565L1513 580L1563 540M1393 575L1398 615L1343 645L1333 700L1323 750L1343 798L1388 798L1393 828L1373 883L1343 913L1313 893L1283 873L1258 848L1208 868M1668 675L1693 725L1708 745L1683 775L1668 798M1393 828L1423 848L1438 893L1473 918L1498 943L1543 948L1573 918L1613 913L1663 898M1498 943L1488 988L1498 1038L1498 1088L1478 1108L1493 1138L1508 1153M1488 988L1523 1008L1553 1033L1573 1078L1593 1098L1623 1093L1658 1118L1668 1153M1703 1018L1673 1058L1643 1078L1658 1118M1668 863L1708 828L1743 848L1768 858L1783 828L1828 838M1243 1038L1273 1048L1283 1033L1313 1038L1323 1063L1343 1078M850 45L890 90L940 115L950 75L980 45M940 115L980 130L1025 110L1043 120L1093 115M950 150L975 190L1000 220L1043 240L1098 215M940 115L950 150L925 180M1223 470L1290 440L1340 430L1383 390M1290 40L1300 70L1340 50L1380 40M830 280L870 260L880 300L915 330L940 360L960 330L980 300" stroke="#1414f0" stroke-width="5.2"/>
<path d="M1073 45L1103 60L1128 85L1153 120L1193 125L1213 165L1218 210L1233 250L1243 280L1278 300L1293 320L1323 330L1333 370L1328 400L1303 415L1273 440L1243 460L1223 470M1128 85L1093 115L1043 135L1063 145L1083 190L1098 215L1118 240L1093 270L1063 300L1043 310M1073 310L1118 300L1158 298L1188 320L1198 360L1188 400L1178 430L1143 450L1123 470L1088 475L1068 450L1058 430L1083 405L1103 395L1108 365L1093 340L1073 310M745 45L765 80L800 115L825 150L850 165L925 180L950 210L960 260L980 300L995 320M825 150L780 180L740 210L780 240L770 265L800 285L820 320L850 340L880 370L900 395L870 425L860 460L850 495L865 505L880 480L900 450L925 425L940 400L970 370L1000 355L1043 340L1073 310M240 345L260 370L300 370L330 380L350 400L370 425L360 450L320 450L295 460L300 480L290 490L270 480L230 475L220 450L235 430L240 380L240 345M985 530L1020 515L1075 510L1095 540L1100 580L1085 610L1060 640L1040 680L1020 720L1000 750L985 720L975 680L985 640L1000 600L985 560L985 530M1108 595L1133 575L1168 555L1208 530L1243 505L1283 480L1323 460L1363 455L1343 480L1323 505L1303 530L1293 560L1278 590L1263 625L1243 665L1223 700L1203 740L1183 780L1150 795L1110 790L1085 790L1073 798L1093 828L1091 858L1108 888L1118 915M1303 1160L1313 1118L1333 1083L1353 1053L1383 1040L1413 1053L1443 1068L1456 1088L1448 1118L1438 1160M1313 1160L1323 1123L1353 1105L1383 1113L1393 1138L1388 1160M2046 400L2008 430L1983 460L1958 490L1943 530L1923 570L1913 610L1893 665L1878 720L1868 760L1863 798L1838 843L1823 898L1813 948L1823 1008L1813 1058L1803 1108L1783 1160M1830 45L1870 55L1920 50L1980 55L2046 50M2046 95L2015 110L2005 135L2025 150L2046 140" stroke="#000" stroke-width="12"/>
<path d="M500 45L495 100L485 165L470 200L440 230L410 270L380 300L350 330L330 360M480 200L520 215L530 235L500 250M1225 590L1190 630L1150 670L1110 710L1070 750L1040 770M625 95L650 80L690 50M800 115L830 140L850 165" stroke="#000" stroke-width="20"/>
<g fill="#000" stroke="none"><circle cx="458" cy="200" r="13"/><circle cx="450" cy="197" r="16"/><circle cx="446" cy="201" r="16"/><circle cx="459" cy="212" r="12"/><circle cx="455" cy="215" r="8"/><circle cx="454" cy="229" r="12"/><circle cx="450" cy="231" r="17"/><circle cx="431" cy="231" r="12"/><circle cx="430" cy="239" r="9"/><circle cx="440" cy="252" r="8"/><circle cx="424" cy="245" r="8"/><circle cx="433" cy="255" r="8"/><circle cx="421" cy="256" r="16"/><circle cx="401" cy="259" r="9"/><circle cx="405" cy="269" r="16"/><circle cx="411" cy="271" r="7"/><circle cx="389" cy="292" r="12"/><circle cx="401" cy="274" r="7"/><circle cx="401" cy="292" r="10"/><circle cx="379" cy="285" r="9"/><circle cx="365" cy="308" r="12"/><circle cx="368" cy="306" r="9"/><circle cx="361" cy="307" r="16"/><circle cx="355" cy="317" r="9"/><circle cx="352" cy="303" r="10"/><circle cx="367" cy="320" r="16"/><circle cx="346" cy="321" r="10"/><circle cx="365" cy="341" r="10"/><circle cx="348" cy="326" r="14"/><circle cx="332" cy="325" r="11"/><circle cx="335" cy="348" r="14"/><circle cx="341" cy="349" r="14"/><circle cx="346" cy="360" r="8"/><circle cx="337" cy="346" r="11"/><circle cx="339" cy="369" r="15"/><circle cx="828" cy="219" r="6"/><circle cx="874" cy="202" r="6"/><circle cx="843" cy="195" r="10"/><circle cx="857" cy="203" r="8"/><circle cx="830" cy="239" r="6"/><circle cx="828" cy="199" r="8"/><circle cx="857" cy="216" r="9"/><circle cx="843" cy="200" r="7"/><circle cx="845" cy="263" r="6"/><circle cx="830" cy="235" r="11"/><circle cx="870" cy="246" r="5"/><circle cx="865" cy="245" r="6"/><circle cx="848" cy="194" r="10"/><circle cx="860" cy="254" r="10"/><circle cx="1115" cy="722" r="6"/><circle cx="1106" cy="678" r="8"/><circle cx="1116" cy="702" r="9"/><circle cx="1113" cy="703" r="7"/><circle cx="1145" cy="667" r="10"/><circle cx="1124" cy="696" r="9"/><circle cx="1131" cy="663" r="11"/><circle cx="1103" cy="671" r="8"/><circle cx="1099" cy="652" r="10"/><circle cx="1149" cy="705" r="10"/><circle cx="1147" cy="668" r="9"/><circle cx="1119" cy="717" r="7"/><circle cx="1107" cy="731" r="9"/><circle cx="1146" cy="697" r="10"/><circle cx="1127" cy="697" r="5"/><circle cx="1134" cy="725" r="9"/><circle cx="1027" cy="760" r="10"/><circle cx="1011" cy="775" r="7"/><circle cx="1010" cy="765" r="8"/><circle cx="1018" cy="774" r="6"/><circle cx="1023" cy="757" r="8"/><circle cx="1020" cy="745" r="8"/></g>
<path d="M925 950L900 975L880 1000L860 1020L840 1045L815 1075L805 1100" stroke="#000" stroke-width="24"/><path d="M840 1045L815 1075L805 1100" stroke="#f4f4ff" stroke-width="7"/>
<path d="M915 945l25 10" stroke="#000" stroke-width="30"/>
<circle cx="200" cy="395" r="12" fill="#000"/><circle cx="415" cy="370" r="14" fill="#000"/><circle cx="565" cy="215" r="9" fill="#000"/><circle cx="622" cy="215" r="9" fill="#000"/><circle cx="535" cy="270" r="7" fill="#000"/><circle cx="60" cy="848" r="8" fill="#000"/><circle cx="85" cy="838" r="8" fill="#000"/><circle cx="680" cy="1396" r="9" fill="#000"/><circle cx="1360" cy="1535" r="8" fill="#000"/><circle cx="760" cy="265" r="8" fill="#000"/><circle cx="365" cy="480" r="6" fill="#000"/><circle cx="380" cy="495" r="6" fill="#000"/><circle cx="330" cy="475" r="5" fill="#000"/>
</g></g>
<rect x="40" y="38" width="2006" height="1518" fill="none" stroke="#111" stroke-width="5"/>
<path d="M781 1153L945 1153L1195 800L1258 1153L1957 1153A46 46 0 0 1 2003 1199L2003 1465A46 46 0 0 1 1957 1511L781 1511A46 46 0 0 1 735 1465L735 1199A46 46 0 0 1 781 1153Z" fill="#fff" stroke="#7aaed6" stroke-width="3.2" stroke-linejoin="round"/>
</g>
<rect x="2903.7" y="1261.0" width="69.5" height="26.40000000000009" fill="#eeeeee"/>
<rect x="2972.7" y="1261.0" width="69.5" height="26.40000000000009" fill="#80c0ff"/>
<rect x="3041.7" y="1261.0" width="69.5" height="26.40000000000009" fill="#0a8cff"/>
<rect x="3110.7" y="1261.0" width="69.5" height="26.40000000000009" fill="#0000ff"/>
<rect x="3179.6" y="1261.0" width="69.5" height="26.40000000000009" fill="#ffff00"/>
<rect x="3248.6" y="1261.0" width="69.5" height="26.40000000000009" fill="#ffa000"/>
<rect x="3317.6" y="1261.0" width="69.5" height="26.40000000000009" fill="#ff0000"/>
<rect x="3386.6" y="1261.0" width="69.5" height="26.40000000000009" fill="#c8003c"/>
<rect x="2903.7" y="1261.0" width="551.9000000000001" height="26.40000000000009" fill="none" stroke="#b0b0b0" stroke-width="1.5"/>
<rect x="3064.5" y="460.3" width="446.5" height="80.5" rx="14" fill="#ff9c05" stroke="#6d8ea8" stroke-width="2.4"/>
</svg>
<svg width="3792" height="2625" viewBox="0 0 3792 2625">
<defs>
<pattern id="chk" width="13" height="13" patternUnits="userSpaceOnUse" patternTransform="rotate(8.7)"><rect width="13" height="13" fill="#fff"/><rect width="6.5" height="6.5" fill="#3a74c2"/><rect x="6.5" y="6.5" width="6.5" height="6.5" fill="#3a74c2"/></pattern>
<linearGradient id="gG" x1="0" y1="0" x2="0" y2="1"><stop offset="0" stop-color="#a4d47c"/><stop offset="1" stop-color="#86c05a"/></linearGradient>
<linearGradient id="gO" x1="0" y1="0" x2="0" y2="1"><stop offset="0" stop-color="#ffa83e"/><stop offset="1" stop-color="#ffa136"/></linearGradient>
<linearGradient id="gDisc" x1="0" y1="0" x2="1" y2="0.3"><stop offset="0" stop-color="#dcdcdc"/><stop offset="0.5" stop-color="#d0d0d0"/><stop offset="0.85" stop-color="#a8a8a8"/><stop offset="1" stop-color="#6e6e6e"/></linearGradient>
<filter id="sh" x="-10%" y="-10%" width="120%" height="130%"><feGaussianBlur stdDeviation="3"/></filter>
</defs>
<rect x="1747.2" y="1436.7" width="1348.8" height="806.8" fill="#fff" stroke="#cfcfcf" stroke-width="2.5"/>
<rect x="1929.5" y="1397.7" width="990.4" height="78.6" rx="13" fill="#ff9800"/>
<rect x="1866.5" y="1516.8" width="496.8" height="106.3" rx="20" fill="#000" opacity="0.13" filter="url(#sh)"/>
<rect x="1863.5" y="1512.8" width="496.8" height="106.3" rx="20" fill="#c4e0b2" stroke="#9fd07c" stroke-width="3"/>
<rect x="1787.9" y="1774.0" width="477.9" height="99.4" rx="20" fill="#000" opacity="0.13" filter="url(#sh)"/>
<rect x="1784.9" y="1770.0" width="477.9" height="99.4" rx="20" fill="#edebe0" stroke="#b0a273" stroke-width="3"/>
<rect x="2338.1" y="2088.4" width="603.7" height="95.0" rx="20" fill="#000" opacity="0.13" filter="url(#sh)"/>
<rect x="2335.1" y="2084.4" width="603.7" height="95.0" rx="20" fill="#d9d9d9" stroke="#bdbdbd" stroke-width="3"/>
<rect x="1765.9" y="2145.6" width="501.8" height="97.5" rx="20" fill="#000" opacity="0.13" filter="url(#sh)"/>
<rect x="1762.9" y="2141.6" width="501.8" height="97.5" rx="20" fill="#ffe7a3" stroke="#f7933c" stroke-width="3.6"/>
<g transform="translate(2270 1480) scale(0.36427)">
<defs><g id="cl1"><polygon points="1900,200 2080,170 2130,760 1930,760"/><circle cx="2070" cy="250" r="75"/><circle cx="2110" cy="380" r="80"/><circle cx="2115" cy="520" r="80"/><circle cx="2105" cy="650" r="78"/><circle cx="2040" cy="690" r="75"/><circle cx="1960" cy="690" r="70"/></g></defs>
<use href="#cl1" fill="#5a5a5a" stroke="#5a5a5a" stroke-width="44" stroke-linejoin="round"/><use href="#cl1" fill="#bfbfbf"/>
<defs><g id="cl2"><polygon points="1600,330 1900,300 1900,860 1640,900"/><circle cx="1890" cy="400" r="70"/><circle cx="1900" cy="520" r="72"/><circle cx="1895" cy="640" r="72"/><circle cx="1880" cy="760" r="72"/><circle cx="1820" cy="830" r="70"/><circle cx="1720" cy="850" r="70"/></g></defs>
<use href="#cl2" fill="#5a5a5a" stroke="#5a5a5a" stroke-width="44" stroke-linejoin="round"/><use href="#cl2" fill="#bfbfbf"/>
<defs><g id="cl3"><ellipse cx="1830" cy="205" rx="262" ry="112" transform="rotate(-13 1830 205)"/></g></defs>
<use href="#cl3" fill="#5a5a5a" stroke="#5a5a5a" stroke-width="44" stroke-linejoin="round"/><use href="#cl3" fill="#bfbfbf"/>
<defs><g id="cl4"><polygon points="985,400 1400,380 1420,520 1400,980 1180,960 1100,700"/><circle cx="1390" cy="440" r="50"/><circle cx="1380" cy="560" r="45"/></g></defs>
<use href="#cl4" fill="#5a5a5a" stroke="#5a5a5a" stroke-width="44" stroke-linejoin="round"/><use href="#cl4" fill="#bfbfbf"/>
<defs><g id="cl5"><ellipse cx="1262" cy="250" rx="345" ry="128" transform="rotate(-13 1262 250)"/></g></defs>
<use href="#cl5" fill="#5a5a5a" stroke="#5a5a5a" stroke-width="44" stroke-linejoin="round"/><use href="#cl5" fill="#bfbfbf"/>
<defs><g id="cl6"><circle cx="730" cy="320" r="55"/><circle cx="647" cy="365" r="62"/><circle cx="823" cy="365" r="62"/><circle cx="635" cy="480" r="70"/><circle cx="865" cy="480" r="70"/><circle cx="642" cy="610" r="72"/><circle cx="878" cy="610" r="72"/><ellipse cx="760" cy="652" rx="170" ry="128"/><polygon points="730,320 823,365 865,480 878,610 904,652 616,652 642,610 635,480 647,365"/></g></defs>
<use href="#cl6" fill="#5a5a5a" stroke="#5a5a5a" stroke-width="44" stroke-linejoin="round"/><use href="#cl6" fill="#bfbfbf"/>
<defs><g id="cl7"><circle cx="500" cy="385" r="40"/><circle cx="434" cy="455" r="62"/><circle cx="566" cy="455" r="62"/><circle cx="393" cy="610" r="88"/><circle cx="627" cy="610" r="88"/><circle cx="383" cy="760" r="85"/><circle cx="637" cy="760" r="85"/><circle cx="385" cy="900" r="80"/><circle cx="635" cy="900" r="80"/><ellipse cx="510" cy="948" rx="185" ry="142"/><polygon points="500,385 566,455 627,610 637,760 635,900 667,948 353,948 385,900 383,760 393,610 434,455"/><polygon points="500,316 562,421 438,421"/></g></defs>
<use href="#cl7" fill="#5a5a5a" stroke="#5a5a5a" stroke-width="44" stroke-linejoin="round"/><use href="#cl7" fill="#bfbfbf"/>
<defs><g id="cl8"><circle cx="965" cy="485" r="45"/><circle cx="897" cy="525" r="50"/><circle cx="1033" cy="525" r="50"/><circle cx="876" cy="625" r="56"/><circle cx="1064" cy="625" r="56"/><circle cx="861" cy="725" r="60"/><circle cx="1089" cy="725" r="60"/><circle cx="861" cy="835" r="62"/><circle cx="1109" cy="835" r="62"/><circle cx="872" cy="945" r="62"/><circle cx="1108" cy="945" r="62"/><ellipse cx="990" cy="978" rx="160" ry="100"/><polygon points="965,485 1033,525 1064,625 1089,725 1109,835 1108,945 1126,978 854,978 872,945 861,835 861,725 876,625 897,525"/></g></defs>
<use href="#cl8" fill="#5a5a5a" stroke="#5a5a5a" stroke-width="44" stroke-linejoin="round"/><use href="#cl8" fill="#bfbfbf"/>
<defs><g id="cl9"><circle cx="1575" cy="423" r="45"/><circle cx="1510" cy="470" r="50"/><circle cx="1640" cy="470" r="50"/><circle cx="1490" cy="570" r="55"/><circle cx="1670" cy="570" r="55"/><circle cx="1477" cy="672" r="58"/><circle cx="1693" cy="672" r="58"/><circle cx="1474" cy="780" r="60"/><circle cx="1706" cy="780" r="60"/><circle cx="1475" cy="882" r="60"/><circle cx="1695" cy="882" r="60"/><ellipse cx="1585" cy="904" rx="150" ry="64"/><polygon points="1575,423 1640,470 1670,570 1693,672 1706,780 1695,882 1712,904 1458,904 1475,882 1474,780 1477,672 1490,570 1510,470"/></g></defs>
<use href="#cl9" fill="#5a5a5a" stroke="#5a5a5a" stroke-width="44" stroke-linejoin="round"/><use href="#cl9" fill="#bfbfbf"/>
<defs><g id="cl10"><circle cx="730" cy="750" r="60"/><circle cx="651" cy="812" r="66"/><circle cx="819" cy="812" r="66"/><circle cx="620" cy="912" r="70"/><circle cx="860" cy="912" r="70"/><circle cx="612" cy="1012" r="72"/><circle cx="878" cy="1012" r="72"/><ellipse cx="745" cy="1042" rx="188" ry="88"/><polygon points="730,750 819,812 860,912 878,1012 905,1042 585,1042 612,1012 620,912 651,812"/></g></defs>
<use href="#cl10" fill="#5a5a5a" stroke="#5a5a5a" stroke-width="44" stroke-linejoin="round"/><use href="#cl10" fill="#bfbfbf"/>
<defs><g id="cl11"><circle cx="270" cy="742" r="62"/><circle cx="176" cy="800" r="72"/><circle cx="368" cy="800" r="72"/><circle cx="156" cy="915" r="76"/><circle cx="420" cy="915" r="76"/><circle cx="154" cy="1030" r="78"/><circle cx="442" cy="1030" r="78"/><ellipse cx="292" cy="1070" rx="200" ry="120"/><polygon points="270,742 368,800 420,915 442,1030 462,1070 122,1070 154,1030 156,915 176,800"/></g></defs>
<use href="#cl11" fill="#5a5a5a" stroke="#5a5a5a" stroke-width="44" stroke-linejoin="round"/><use href="#cl11" fill="#bfbfbf"/>
<defs><g id="cl12"><circle cx="1370" cy="685" r="55"/><circle cx="1294" cy="742" r="62"/><circle cx="1450" cy="742" r="62"/><circle cx="1271" cy="842" r="66"/><circle cx="1479" cy="842" r="66"/><circle cx="1256" cy="938" r="66"/><circle cx="1494" cy="938" r="66"/><ellipse cx="1375" cy="964" rx="168" ry="78"/><polygon points="1370,685 1450,742 1479,842 1494,938 1518,964 1232,964 1256,938 1271,842 1294,742"/></g></defs>
<use href="#cl12" fill="#5a5a5a" stroke="#5a5a5a" stroke-width="44" stroke-linejoin="round"/><use href="#cl12" fill="#bfbfbf"/>
</g>
<ellipse cx="2807.3" cy="1949.9" rx="263" ry="29" transform="rotate(-8.7 2807.3 1949.9)" fill="url(#chk)"/>
<g transform="translate(2270 1480) scale(0.36427)"><path d="M800 1161v14M800 1195v14M800 1234v14M800 1270v14M800 1336v14M835 1129v30M835 1199v8M835 1238v45M835 1365v14M879 1168v45M879 1241v45M879 1335v14M922 1142v45M922 1297v45M952 1125v14M952 1191v14M952 1258v8M952 1290v30M952 1342v1M992 1111v14M992 1137v8M992 1171v8M992 1217v30M992 1267v14M1039 1109v45M1039 1170v14M1039 1202v8M1039 1224v30M1039 1287v14M1072 1105v30M1072 1152v14M1072 1202v8M1072 1264v30M1072 1322v5M1104 1094v14M1104 1122v8M1104 1157v8M1104 1184v30M1104 1239v45M1104 1310v14M1104 1350v7M1153 1080v8M1153 1130v14M1153 1194v30M1153 1248v30M1153 1321v29M1202 1073v8M1202 1106v14M1202 1177v30M1202 1235v8M1202 1260v45M1202 1320v7M1247 1051v30M1247 1104v14M1247 1146v45M1247 1206v30M1247 1278v8M1247 1302v27M1293 1056v45M1293 1125v14M1293 1164v30M1293 1229v14M1293 1285v8M1293 1309v5M1340 1044v30M1340 1122v45M1340 1189v30M1340 1260v30M1340 1308v10M1378 1047v8M1378 1095v14M1378 1130v45M1378 1201v8M1378 1231v30M1410 1052v30M1410 1100v14M1410 1178v8M1410 1206v8M1410 1252v23M1445 1036v30M1445 1089v30M1445 1137v8M1445 1170v14M1445 1208v45M1467 1028v14M1467 1090v14M1467 1138v30M1467 1194v30M1467 1272v13M1491 1032v14M1491 1073v30M1491 1118v45M1491 1188v14M1491 1227v8M1491 1283v8M1523 1050v45M1523 1108v45M1523 1176v30M1523 1223v14M1523 1256v14M1546 1017v14M1546 1077v14M1546 1111v14M1546 1148v14M1546 1189v14M1546 1216v30M1546 1259v8M1575 1014v45M1575 1092v8M1575 1126v14M1575 1159v30M1575 1211v14M1596 1002v8M1596 1034v45M1596 1116v30M1596 1158v45M1596 1229v8M1628 991v8M1628 1023v8M1628 1043v8M1628 1080v30M1628 1138v30M1628 1186v14M1628 1221v8M1664 977v14M1664 1010v45M1664 1070v45M1664 1128v30M1664 1172v30M1664 1231v13M1691 962v14M1691 989v14M1691 1058v30M1691 1116v14M1691 1148v30M1691 1193v45M1691 1252v8M1726 936v30M1726 983v8M1726 1006v45M1726 1072v14M1726 1099v45M1726 1174v8M1726 1210v15M1757 931v30M1757 987v30M1757 1046v14M1757 1087v45M1757 1153v30M1757 1199v13M1783 909v8M1783 944v45M1783 1012v8M1783 1040v45M1783 1099v14M1783 1142v8M1783 1172v8M1783 1201v8M1808 900v30M1808 973v8M1808 996v8M1808 1028v14M1808 1107v45M1808 1175v8M1808 1203v14M1828 900v14M1828 928v14M1828 956v14M1828 994v8M1828 1028v30M1828 1074v30M1828 1125v30M1828 1168v45M1860 888v7M1860 903v10M1860 932v18M1860 960v7M1860 985v7M1860 1001v7M1860 1027v30M1860 1077v30M1860 1115v10M1860 1139v30M1860 1202v7M1860 1233v7M1875 883v18M1875 952v10M1875 1009v7M1875 1025v30M1875 1064v30M1875 1103v30M1875 1163v18M1875 1197v2M1893 875v7M1893 898v18M1893 925v10M1893 952v18M1893 980v10M1893 1001v30M1893 1047v10M1893 1076v10M1893 1101v30M1893 1143v18M1893 1177v10M1893 1203v7M1908 885v30M1908 927v18M1908 963v10M1908 985v30M1908 1033v30M1908 1084v30M1908 1132v18M1908 1181v18M1923 879v7M1923 905v30M1923 949v7M1923 971v10M1923 1011v18M1923 1044v30M1923 1089v30M1923 1131v7M1923 1147v18M1923 1175v10M1923 1195v10M1923 1220v6M1935 875v30M1935 924v30M1935 970v30M1935 1026v10M1935 1052v10M1935 1078v7M1935 1098v10M1935 1123v7M1935 1142v7M1935 1162v30M1935 1207v6M1946 857v10M1946 887v7M1946 908v7M1946 926v10M1946 949v18M1946 980v10M1946 1023v10M1946 1045v30M1946 1103v10M1946 1126v10M1946 1160v7M1965 850v30M1965 895v30M1965 938v30M1965 980v7M1965 1005v10M1965 1027v30M1965 1075v10M1965 1105v18M1965 1135v30M1965 1183v18M1978 850v18M1978 886v30M1978 934v18M1978 971v7M1978 993v7M1978 1016v10M1978 1037v7M1978 1058v7M1978 1083v18M1978 1115v7M1978 1157v30M1978 1202v4M1997 849v30M1997 895v10M1997 913v10M1997 934v18M1997 969v18M1997 1004v10M1997 1060v18M1997 1092v30M1997 1141v10M1997 1167v10M1997 1193v1M2014 836v10M2014 858v7M2014 885v10M2014 910v30M2014 958v30M2014 1005v7M2014 1022v10M2014 1043v18M2014 1075v18M2014 1111v7M2014 1134v30M2014 1181v10M2014 1210v8M2029 843v7M2029 858v18M2029 893v10M2029 916v30M2029 956v30M2029 999v10M2029 1022v30M2029 1063v18M2029 1094v7M2029 1133v30M2029 1175v11M2041 815v18M2041 846v7M2041 871v10M2041 890v7M2041 915v18M2041 943v18M2041 970v10M2041 989v18M2041 1019v18M2041 1054v18M2041 1087v10M2041 1116v7M2041 1143v18M2041 1178v7M2061 809v10M2061 838v30M2061 880v10M2061 907v30M2061 957v18M2061 984v10M2061 1004v7M2061 1030v18M2061 1059v30M2061 1119v18M2061 1149v7M2061 1169v7M2061 1195v6M2079 825v18M2079 853v18M2079 886v30M2079 928v18M2079 964v30M2079 1012v7M2079 1034v30M2079 1083v30M2079 1133v18M2079 1162v30M2100 792v18M2100 820v7M2100 846v7M2100 862v18M2100 894v7M2100 911v18M2100 938v30M2100 995v18M2100 1026v18M2100 1054v30M2100 1108v7M2100 1129v18M2100 1167v8M2113 800v7M2113 819v7M2113 843v18M2113 881v10M2113 901v18M2113 938v18M2113 973v18M2113 1005v7M2113 1031v30M2113 1075v18M2113 1108v18M2113 1146v10M2113 1166v8M2135 793v7M2135 813v30M2135 854v30M2135 897v30M2135 942v18M2135 977v7M2135 1001v18M2135 1028v7M2135 1052v30M2135 1091v10M2135 1115v30M2157 768v10M2157 797v30M2157 835v30M2157 881v7M2157 908v10M2157 926v7M2157 952v10M2157 977v7M2157 996v7M2157 1018v18M2157 1050v10M2157 1077v10M2157 1098v10M2157 1124v10M2157 1150v18M2157 1186v1M370 1195v8M370 1223v8M530 1130v8M530 1158v8M530 1186v8M530 1214v8M530 1242v8M650 1135v8M650 1163v8" stroke="#1a1a1a" stroke-width="7" fill="none"/></g>
<polygon points="2128.8,1681.4 2257.2,1670.2 2257.2,1684.2 2131.6,1695.4" fill="#74b34c"/>
<polygon points="2257.2,1680.0 2338.6,1650.9 2339.3,1662.5 2258.6,1695.4" fill="#43802a"/>
<polygon points="2128.1,1668.4 2256.1,1655.4 2256.1,1636.8 2338.6,1650.9 2257.2,1680.0 2257.2,1670.2 2128.8,1681.4" fill="url(#gG)"/>
<g transform="rotate(6.4 2367.0 2016.5)"><ellipse cx="2367.0" cy="2022.5" rx="121" ry="22" fill="url(#gDisc)"/>
<ellipse cx="2367.0" cy="2016.5" rx="120" ry="21" fill="#fefefe"/></g>
<path d="M2357.9 1945.6L2408.1 2004.2L2377.9 2006.0C2380.7 2031.6 2370.2 2047.4 2359.6 2055.1L2294.0 2049.8C2324.6 2045.6 2338.6 2031.6 2335.8 2007.7L2306.3 2007.7Z" fill="url(#gO)" stroke="#f59a3a" stroke-width="1.5"/>
<polygon points="2267.9,2060.1 2270.8,2072.9 2228.8,2126.4 2226.9,2113.0" fill="#5b2c0a"/>
<polygon points="2207.8,2103.5 2226.9,2113.0 2228.8,2126.4 2209.7,2115.9" fill="#e06a0a"/>
<polygon points="2149.6,2135.0 2207.8,2103.5 2209.7,2115.9 2150.6,2147.8" fill="#cf6410"/>
<polygon points="2129.1,2125.4 2149.6,2135.0 2150.6,2147.8 2131.5,2137.8" fill="#e8700f"/>
<polygon points="2129.1,2125.4 2178.2,2096.8 2172.5,2081.5 2267.9,2060.1 2226.9,2113.0 2207.8,2103.5 2149.6,2135.0" fill="#ffa233"/>
<polygon points="2172.5,2081.5 2188.7,2091.1 2178.2,2096.8" fill="#e8780f"/>
</svg>
<svg width="3792" height="2625" viewBox="0 0 3792 2625">
<rect x="3228" y="135" width="23.5" height="16" fill="#4aa9c7"/>
<path d="M3270 140L3254 178" stroke="#4aa9c7" stroke-width="3" fill="none"/>
</svg>
<span class="t" style="left:131.1px;top:100.5px;font-size:95.16px;transform:scaleX(1.0228);font-family:'Liberation Sans','Noto Sans CJK JP',sans-serif;font-weight:400;color:#fff;">社会課題／大雨</span
><span class="t" style="left:810.8px;top:100.5px;font-size:95.16px;transform:scaleX(0.8942);font-family:'Liberation Sans','Noto Sans CJK JP',sans-serif;font-weight:400;color:#fff;">の</span
><span class="t" style="left:890.8px;top:100.5px;font-size:95.16px;transform:scaleX(1.0469);font-family:'Liberation Sans','Noto Sans CJK JP',sans-serif;font-weight:400;color:#fff;">増加</span
><span class="t" style="left:138.6px;top:343.8px;font-size:130.10px;transform:scaleX(1.0501);font-family:'Liberation Sans','Noto Sans CJK JP',sans-serif;font-weight:700;color:#1f4e8c;-webkit-text-stroke:2.4px #1f4e8c;">近年、</span
><span class="t" style="left:500.6px;top:343.8px;font-size:130.10px;transform:scaleX(1.0496);font-family:'Liberation Sans','Noto Sans CJK JP',sans-serif;font-weight:700;color:#1f4e8c;-webkit-text-stroke:2.4px #1f4e8c;">気象災害</span
><span class="t" style="left:1046.8px;top:343.8px;font-size:130.10px;transform:scaleX(0.9742);font-family:'Liberation Sans','Noto Sans CJK JP',sans-serif;font-weight:700;color:#1f4e8c;-webkit-text-stroke:2.4px #1f4e8c;">の</span
><span class="t" style="left:1168.4px;top:343.8px;font-size:130.10px;transform:scaleX(1.0621);font-family:'Liberation Sans','Noto Sans CJK JP',sans-serif;font-weight:700;color:#1f4e8c;-webkit-text-stroke:2.4px #1f4e8c;">多発</span
><span class="t" style="left:1426.6px;top:343.8px;font-size:130.10px;transform:scaleX(0.7982);font-family:'Liberation Sans','Noto Sans CJK JP',sans-serif;font-weight:700;color:#1f4e8c;-webkit-text-stroke:2.4px #1f4e8c;">・</span
><span class="t" style="left:1511.9px;top:343.8px;font-size:130.10px;transform:scaleX(1.0466);font-family:'Liberation Sans','Noto Sans CJK JP',sans-serif;font-weight:700;color:#1f4e8c;-webkit-text-stroke:2.4px #1f4e8c;">激甚化</span
><span class="t" style="left:1921.4px;top:343.8px;font-size:130.10px;transform:scaleX(1.0166);font-family:'Liberation Sans','Noto Sans CJK JP',sans-serif;font-weight:700;color:#1f4e8c;-webkit-text-stroke:2.4px #1f4e8c;">が</span
><span class="t" style="left:2054.0px;top:343.8px;font-size:130.10px;transform:scaleX(1.0354);font-family:'Liberation Sans','Noto Sans CJK JP',sans-serif;font-weight:700;color:#1f4e8c;-webkit-text-stroke:2.4px #1f4e8c;">課題</span
><span class="t" style="left:2317.8px;top:343.8px;font-size:130.10px;transform:scaleX(0.8426);font-family:'Liberation Sans','Noto Sans CJK JP',sans-serif;font-weight:700;color:#1f4e8c;-webkit-text-stroke:2.4px #1f4e8c;">と</span
><span class="t" style="left:2420.0px;top:343.8px;font-size:130.10px;transform:scaleX(0.9467);font-family:'Liberation Sans','Noto Sans CJK JP',sans-serif;font-weight:700;color:#1f4e8c;-webkit-text-stroke:2.4px #1f4e8c;">な</span
><span class="t" style="left:2526.8px;top:343.8px;font-size:130.10px;transform:scaleX(0.9117);font-family:'Liberation Sans','Noto Sans CJK JP',sans-serif;font-weight:700;color:#1f4e8c;-webkit-text-stroke:2.4px #1f4e8c;">っ</span
><span class="t" style="left:2634.9px;top:343.8px;font-size:130.10px;transform:scaleX(0.8865);font-family:'Liberation Sans','Noto Sans CJK JP',sans-serif;font-weight:700;color:#1f4e8c;-webkit-text-stroke:2.4px #1f4e8c;">て</span
><span class="t" style="left:2741.6px;top:343.8px;font-size:130.10px;transform:scaleX(0.9032);font-family:'Liberation Sans','Noto Sans CJK JP',sans-serif;font-weight:700;color:#1f4e8c;-webkit-text-stroke:2.4px #1f4e8c;">お</span
><span class="t" style="left:2845.4px;top:343.8px;font-size:130.10px;transform:scaleX(0.9394);font-family:'Liberation Sans','Noto Sans CJK JP',sans-serif;font-weight:700;color:#1f4e8c;-webkit-text-stroke:2.4px #1f4e8c;">り</span
><span class="t" style="left:133.4px;top:506.9px;font-size:130.74px;transform:scaleX(0.9004);font-family:'Liberation Sans','Noto Sans CJK JP',sans-serif;font-weight:700;color:#1f4e8c;-webkit-text-stroke:2.4px #1f4e8c;">その</span
><span class="t" style="left:369.3px;top:506.9px;font-size:130.74px;transform:scaleX(1.0227);font-family:'Liberation Sans','Noto Sans CJK JP',sans-serif;font-weight:700;color:#1f4e8c;-webkit-text-stroke:2.4px #1f4e8c;">主</span
><span class="t" style="left:503.0px;top:506.9px;font-size:130.74px;transform:scaleX(0.9421);font-family:'Liberation Sans','Noto Sans CJK JP',sans-serif;font-weight:700;color:#1f4e8c;-webkit-text-stroke:2.4px #1f4e8c;">な</span
><span class="t" style="left:624.2px;top:506.9px;font-size:130.74px;transform:scaleX(1.0693);font-family:'Liberation Sans','Noto Sans CJK JP',sans-serif;font-weight:700;color:#1f4e8c;-webkit-text-stroke:2.4px #1f4e8c;">原因</span
><span class="t" style="left:899.8px;top:506.9px;font-size:130.74px;transform:scaleX(0.9056);font-family:'Liberation Sans','Noto Sans CJK JP',sans-serif;font-weight:700;color:#1f4e8c;-webkit-text-stroke:2.4px #1f4e8c;">は</span
><span class="t" style="left:1017.5px;top:506.9px;font-size:130.74px;transform:scaleX(1.0465);font-family:'Liberation Sans','Noto Sans CJK JP',sans-serif;font-weight:700;color:#1f4e8c;-webkit-text-stroke:2.4px #1f4e8c;">大雨</span
><span class="t" style="left:1292.8px;top:506.9px;font-size:130.74px;transform:scaleX(0.9695);font-family:'Liberation Sans','Noto Sans CJK JP',sans-serif;font-weight:700;color:#1f4e8c;-webkit-text-stroke:2.4px #1f4e8c;">の</span
><span class="t" style="left:1416.8px;top:506.9px;font-size:130.74px;transform:scaleX(0.9944);font-family:'Liberation Sans','Noto Sans CJK JP',sans-serif;font-weight:700;color:#1f4e8c;-webkit-text-stroke:2.4px #1f4e8c;">増加</span
><span class="t" style="left:1676.2px;top:506.9px;font-size:130.74px;transform:scaleX(0.9821);font-family:'Liberation Sans','Noto Sans CJK JP',sans-serif;font-weight:700;color:#1f4e8c;-webkit-text-stroke:2.4px #1f4e8c;">に</span
><span class="t" style="left:1791.4px;top:506.9px;font-size:130.74px;transform:scaleX(1.0718);font-family:'Liberation Sans','Noto Sans CJK JP',sans-serif;font-weight:700;color:#1f4e8c;-webkit-text-stroke:2.4px #1f4e8c;">あ</span
><span class="t" style="left:1921.3px;top:506.9px;font-size:130.74px;transform:scaleX(0.8135);font-family:'Liberation Sans','Noto Sans CJK JP',sans-serif;font-weight:700;color:#1f4e8c;-webkit-text-stroke:2.4px #1f4e8c;">り</span
><span class="t" style="left:2005.5px;top:506.9px;font-size:130.74px;transform:scaleX(0.9307);font-family:'Liberation Sans','Noto Sans CJK JP',sans-serif;font-weight:700;color:#1f4e8c;-webkit-text-stroke:2.4px #1f4e8c;">ま</span
><span class="t" style="left:2115.9px;top:506.9px;font-size:130.74px;transform:scaleX(0.9989);font-family:'Liberation Sans','Noto Sans CJK JP',sans-serif;font-weight:700;color:#1f4e8c;-webkit-text-stroke:2.4px #1f4e8c;">す</span
><span class="t" style="left:160.7px;top:862.3px;font-size:119.18px;transform:scaleX(0.9359);font-family:'DejaVu Sans','Liberation Sans',sans-serif;font-weight:700;color:#7f7f7f;-webkit-text-stroke:1.6px #7f7f7f;">1</span
><span class="t" style="left:239.0px;top:867.1px;font-size:109.47px;transform:scaleX(1.0698);font-family:'Liberation Sans','Noto Sans CJK JP',sans-serif;font-weight:700;color:#7f7f7f;-webkit-text-stroke:1.6px #7f7f7f;">時間</span
><span class="t" style="left:470.0px;top:863.9px;font-size:115.23px;transform:scaleX(1.0063);font-family:'DejaVu Sans','Liberation Sans',sans-serif;font-weight:700;color:#7f7f7f;-webkit-text-stroke:1.6px #7f7f7f;">80</span
><span class="t" style="left:627.8px;top:863.2px;font-size:118.10px;transform:scaleX(1.0200);font-family:'IPAGothic','Noto Sans CJK JP',monospace;font-weight:700;color:#7f7f7f;-webkit-text-stroke:1.6px #7f7f7f;">㎜</span
><span class="t" style="left:748.6px;top:884.6px;font-size:89.25px;transform:scaleX(1.0771);font-family:'Liberation Sans','Noto Sans CJK JP',sans-serif;font-weight:700;color:#7f7f7f;-webkit-text-stroke:1.6px #7f7f7f;">以上</span
><span class="t" style="left:939.7px;top:867.1px;font-size:109.47px;transform:scaleX(1.0197);font-family:'Liberation Sans','Noto Sans CJK JP',sans-serif;font-weight:700;color:#7f7f7f;-webkit-text-stroke:1.6px #7f7f7f;">の</span
><span class="t" style="left:1048.7px;top:867.1px;font-size:109.47px;transform:scaleX(1.0680);font-family:'Liberation Sans','Noto Sans CJK JP',sans-serif;font-weight:700;color:#7f7f7f;-webkit-text-stroke:1.6px #7f7f7f;">猛烈</span
><span class="t" style="left:1282.4px;top:867.1px;font-size:109.47px;transform:scaleX(0.9289);font-family:'Liberation Sans','Noto Sans CJK JP',sans-serif;font-weight:700;color:#7f7f7f;-webkit-text-stroke:1.6px #7f7f7f;">な</span
><span class="t" style="left:1387.9px;top:867.1px;font-size:109.47px;transform:scaleX(1.0440);font-family:'Liberation Sans','Noto Sans CJK JP',sans-serif;font-weight:700;color:#7f7f7f;-webkit-text-stroke:1.6px #7f7f7f;">雨</span
><span class="t" style="left:157.7px;top:1008.7px;font-size:107.79px;transform:scaleX(1.0464);font-family:'Liberation Sans','Noto Sans CJK JP',sans-serif;font-weight:700;color:#7f7f7f;-webkit-text-stroke:1.6px #7f7f7f;">の</span
><span class="t" style="left:266.1px;top:1008.7px;font-size:107.79px;transform:scaleX(1.0814);font-family:'Liberation Sans','Noto Sans CJK JP',sans-serif;font-weight:700;color:#7f7f7f;-webkit-text-stroke:1.6px #7f7f7f;">発生回数</span
><span class="t" style="left:736.1px;top:1008.7px;font-size:107.79px;transform:scaleX(0.9681);font-family:'Liberation Sans','Noto Sans CJK JP',sans-serif;font-weight:700;color:#7f7f7f;-webkit-text-stroke:1.6px #7f7f7f;">は、</span
><span class="t" style="left:912.8px;top:1004.9px;font-size:115.23px;transform:scaleX(0.9947);font-family:'DejaVu Sans','Liberation Sans',sans-serif;font-weight:700;color:#7f7f7f;-webkit-text-stroke:1.6px #7f7f7f;">40</span
><span class="t" style="left:1072.3px;top:1008.7px;font-size:107.79px;transform:scaleX(1.0946);font-family:'Liberation Sans','Noto Sans CJK JP',sans-serif;font-weight:700;color:#7f7f7f;-webkit-text-stroke:1.6px #7f7f7f;">年間</span
><span class="t" style="left:1302.7px;top:1008.7px;font-size:107.79px;transform:scaleX(0.9653);font-family:'Liberation Sans','Noto Sans CJK JP',sans-serif;font-weight:700;color:#7f7f7f;-webkit-text-stroke:1.6px #7f7f7f;">で</span
><span class="t" style="left:161.3px;top:1146.1px;font-size:111.58px;transform:scaleX(1.0160);font-family:'Liberation Sans','Noto Sans CJK JP',sans-serif;font-weight:700;color:#7f7f7f;-webkit-text-stroke:1.6px #7f7f7f;">約</span
><span class="t" style="left:274.0px;top:1144.2px;font-size:118.12px;transform:scaleX(1.0542);font-family:'DejaVu Sans','Liberation Sans',sans-serif;font-weight:700;color:#7f7f7f;-webkit-text-stroke:1.6px #7f7f7f;">2</span
><span class="t" style="left:355.8px;top:1146.1px;font-size:111.58px;transform:scaleX(1.0309);font-family:'Liberation Sans','Noto Sans CJK JP',sans-serif;font-weight:700;color:#7f7f7f;-webkit-text-stroke:1.6px #7f7f7f;">倍</span
><span class="t" style="left:474.4px;top:1146.1px;font-size:111.58px;transform:scaleX(0.8630);font-family:'Liberation Sans','Noto Sans CJK JP',sans-serif;font-weight:700;color:#7f7f7f;-webkit-text-stroke:1.6px #7f7f7f;">に</span
><span class="t" style="left:566.1px;top:1146.1px;font-size:111.58px;transform:scaleX(1.0566);font-family:'Liberation Sans','Noto Sans CJK JP',sans-serif;font-weight:700;color:#7f7f7f;-webkit-text-stroke:1.6px #7f7f7f;">増加</span
><span class="t" style="left:801.2px;top:1146.1px;font-size:111.58px;transform:scaleX(0.8009);font-family:'Liberation Sans','Noto Sans CJK JP',sans-serif;font-weight:700;color:#7f7f7f;-webkit-text-stroke:1.6px #7f7f7f;">し</span
><span class="t" style="left:885.0px;top:1146.1px;font-size:111.58px;transform:scaleX(0.8962);font-family:'Liberation Sans','Noto Sans CJK JP',sans-serif;font-weight:700;color:#7f7f7f;-webkit-text-stroke:1.6px #7f7f7f;">て</span
><span class="t" style="left:975.6px;top:1146.1px;font-size:111.58px;transform:scaleX(0.9714);font-family:'Liberation Sans','Noto Sans CJK JP',sans-serif;font-weight:700;color:#7f7f7f;-webkit-text-stroke:1.6px #7f7f7f;">い</span
><span class="t" style="left:1073.1px;top:1146.1px;font-size:111.58px;transform:scaleX(1.0028);font-family:'Liberation Sans','Noto Sans CJK JP',sans-serif;font-weight:700;color:#7f7f7f;-webkit-text-stroke:1.6px #7f7f7f;">ま</span
><span class="t" style="left:1172.3px;top:1146.1px;font-size:111.58px;transform:scaleX(0.9848);font-family:'Liberation Sans','Noto Sans CJK JP',sans-serif;font-weight:700;color:#7f7f7f;-webkit-text-stroke:1.6px #7f7f7f;">す</span
><span class="t" style="left:1728.3px;top:868.5px;font-size:107.94px;transform:scaleX(1.0910);font-family:'Liberation Sans','Noto Sans CJK JP',sans-serif;font-weight:700;color:#7f7f7f;-webkit-text-stroke:1.6px #7f7f7f;">大雨</span
><span class="t" style="left:1961.8px;top:868.5px;font-size:107.94px;transform:scaleX(1.0234);font-family:'Liberation Sans','Noto Sans CJK JP',sans-serif;font-weight:700;color:#7f7f7f;-webkit-text-stroke:1.6px #7f7f7f;">の</span
><span class="t" style="left:2070.7px;top:868.5px;font-size:107.94px;transform:scaleX(1.0865);font-family:'Liberation Sans','Noto Sans CJK JP',sans-serif;font-weight:700;color:#7f7f7f;-webkit-text-stroke:1.6px #7f7f7f;">原因</span
><span class="t" style="left:2302.4px;top:868.5px;font-size:107.94px;transform:scaleX(1.0256);font-family:'Liberation Sans','Noto Sans CJK JP',sans-serif;font-weight:700;color:#7f7f7f;-webkit-text-stroke:1.6px #7f7f7f;">の</span
><span class="t" style="left:2409.1px;top:863.8px;font-size:116.56px;transform:scaleX(0.9826);font-family:'DejaVu Sans','Liberation Sans',sans-serif;font-weight:700;color:#7f7f7f;-webkit-text-stroke:1.6px #7f7f7f;">6</span
><span class="t" style="left:2489.3px;top:868.5px;font-size:107.94px;transform:scaleX(1.0869);font-family:'Liberation Sans','Noto Sans CJK JP',sans-serif;font-weight:700;color:#7f7f7f;-webkit-text-stroke:1.6px #7f7f7f;">割</span
><span class="t" style="left:2606.6px;top:885.0px;font-size:90.43px;transform:scaleX(1.0687);font-family:'Liberation Sans','Noto Sans CJK JP',sans-serif;font-weight:700;color:#7f7f7f;-webkit-text-stroke:1.6px #7f7f7f;">以上</span
><span class="t" style="left:1728.5px;top:1008.1px;font-size:108.42px;transform:scaleX(0.9223);font-family:'Liberation Sans','Noto Sans CJK JP',sans-serif;font-weight:700;color:#7f7f7f;-webkit-text-stroke:1.6px #7f7f7f;">は</span
><span class="t" style="left:1835.3px;top:1008.1px;font-size:108.42px;transform:scaleX(1.0754);font-family:'Liberation Sans','Noto Sans CJK JP',sans-serif;font-weight:700;color:#7f7f7f;-webkit-text-stroke:1.6px #7f7f7f;">線状降水帯</span
><span class="t" style="left:2414.9px;top:1008.1px;font-size:108.42px;transform:scaleX(0.9337);font-family:'Liberation Sans','Noto Sans CJK JP',sans-serif;font-weight:700;color:#7f7f7f;-webkit-text-stroke:1.6px #7f7f7f;">に</span
><span class="t" style="left:2509.4px;top:1008.1px;font-size:108.42px;transform:scaleX(0.9870);font-family:'Liberation Sans','Noto Sans CJK JP',sans-serif;font-weight:700;color:#7f7f7f;-webkit-text-stroke:1.6px #7f7f7f;">よ</span
><span class="t" style="left:2607.5px;top:1008.1px;font-size:108.42px;transform:scaleX(0.9690);font-family:'Liberation Sans','Noto Sans CJK JP',sans-serif;font-weight:700;color:#7f7f7f;-webkit-text-stroke:1.6px #7f7f7f;">る</span
><span class="t" style="left:1729.9px;top:1142.4px;font-size:116.20px;transform:scaleX(0.8178);font-family:'Liberation Sans','Noto Sans CJK JP',sans-serif;font-weight:700;color:#7f7f7f;-webkit-text-stroke:1.6px #7f7f7f;">も</span
><span class="t" style="left:1827.8px;top:1142.4px;font-size:116.20px;transform:scaleX(0.9576);font-family:'Liberation Sans','Noto Sans CJK JP',sans-serif;font-weight:700;color:#7f7f7f;-webkit-text-stroke:1.6px #7f7f7f;">の</span
><span class="t" style="left:1925.9px;top:1142.4px;font-size:116.20px;transform:scaleX(0.8415);font-family:'Liberation Sans','Noto Sans CJK JP',sans-serif;font-weight:700;color:#7f7f7f;-webkit-text-stroke:1.6px #7f7f7f;">と</span
><span class="t" style="left:2017.3px;top:1142.4px;font-size:116.20px;transform:scaleX(1.0101);font-family:'Liberation Sans','Noto Sans CJK JP',sans-serif;font-weight:700;color:#7f7f7f;-webkit-text-stroke:1.6px #7f7f7f;">言</span
><span class="t" style="left:2135.1px;top:1142.4px;font-size:116.20px;transform:scaleX(0.8368);font-family:'Liberation Sans','Noto Sans CJK JP',sans-serif;font-weight:700;color:#7f7f7f;-webkit-text-stroke:1.6px #7f7f7f;">わ</span
><span class="t" style="left:2232.1px;top:1142.4px;font-size:116.20px;transform:scaleX(0.8468);font-family:'Liberation Sans','Noto Sans CJK JP',sans-serif;font-weight:700;color:#7f7f7f;-webkit-text-stroke:1.6px #7f7f7f;">れ</span
><span class="t" style="left:2330.1px;top:1142.4px;font-size:116.20px;transform:scaleX(0.8447);font-family:'Liberation Sans','Noto Sans CJK JP',sans-serif;font-weight:700;color:#7f7f7f;-webkit-text-stroke:1.6px #7f7f7f;">て</span
><span class="t" style="left:2422.8px;top:1142.4px;font-size:116.20px;transform:scaleX(0.8956);font-family:'Liberation Sans','Noto Sans CJK JP',sans-serif;font-weight:700;color:#7f7f7f;-webkit-text-stroke:1.6px #7f7f7f;">い</span
><span class="t" style="left:2516.1px;top:1142.4px;font-size:116.20px;transform:scaleX(0.9629);font-family:'Liberation Sans','Noto Sans CJK JP',sans-serif;font-weight:700;color:#7f7f7f;-webkit-text-stroke:1.6px #7f7f7f;">ま</span
><span class="t" style="left:2615.6px;top:1142.4px;font-size:116.20px;transform:scaleX(0.9517);font-family:'Liberation Sans','Noto Sans CJK JP',sans-serif;font-weight:700;color:#7f7f7f;-webkit-text-stroke:1.6px #7f7f7f;">す</span
><span class="t" style="left:3159.7px;top:1564.3px;font-size:72.74px;transform:scaleX(1.0670);font-family:'Liberation Sans','Noto Sans CJK JP',sans-serif;font-weight:700;color:#1f4e8c;-webkit-text-stroke:1.1px #1f4e8c;">線状降水帯</span
><span class="t" style="left:3543.6px;top:1564.3px;font-size:72.74px;transform:scaleX(0.8935);font-family:'Liberation Sans','Noto Sans CJK JP',sans-serif;font-weight:700;color:#1f4e8c;-webkit-text-stroke:1.1px #1f4e8c;">とは、</span
><span class="t" style="left:3159.9px;top:1656.7px;font-size:72.63px;transform:scaleX(1.0666);font-family:'Liberation Sans','Noto Sans CJK JP',sans-serif;font-weight:700;color:#1f4e8c;-webkit-text-stroke:1.1px #1f4e8c;">断続的</span
><span class="t" style="left:3394.7px;top:1656.7px;font-size:72.63px;transform:scaleX(0.9023);font-family:'Liberation Sans','Noto Sans CJK JP',sans-serif;font-weight:700;color:#1f4e8c;-webkit-text-stroke:1.1px #1f4e8c;">な</span
><span class="t" style="left:3462.4px;top:1656.7px;font-size:72.63px;transform:scaleX(1.0672);font-family:'Liberation Sans','Noto Sans CJK JP',sans-serif;font-weight:700;color:#1f4e8c;-webkit-text-stroke:1.1px #1f4e8c;">積乱雲</span
><span class="t" style="left:3159.7px;top:1751.5px;font-size:72.84px;transform:scaleX(1.0137);font-family:'Liberation Sans','Noto Sans CJK JP',sans-serif;font-weight:700;color:#1f4e8c;-webkit-text-stroke:1.1px #1f4e8c;">の</span
><span class="t" style="left:3231.7px;top:1751.5px;font-size:72.84px;transform:scaleX(1.0599);font-family:'Liberation Sans','Noto Sans CJK JP',sans-serif;font-weight:700;color:#1f4e8c;-webkit-text-stroke:1.1px #1f4e8c;">発生</span
><span class="t" style="left:3392.8px;top:1751.5px;font-size:72.84px;transform:scaleX(0.8485);font-family:'Liberation Sans','Noto Sans CJK JP',sans-serif;font-weight:700;color:#1f4e8c;-webkit-text-stroke:1.1px #1f4e8c;">によって</span
><span class="t" style="left:3160.4px;top:1844.2px;font-size:72.25px;transform:scaleX(1.0478);font-family:'Liberation Sans','Noto Sans CJK JP',sans-serif;font-weight:700;color:#1f4e8c;-webkit-text-stroke:1.1px #1f4e8c;">激</span
><span class="t" style="left:3237.3px;top:1844.2px;font-size:72.25px;transform:scaleX(0.8400);font-family:'Liberation Sans','Noto Sans CJK JP',sans-serif;font-weight:700;color:#1f4e8c;-webkit-text-stroke:1.1px #1f4e8c;">しい</span
><span class="t" style="left:3362.6px;top:1844.2px;font-size:72.25px;transform:scaleX(1.0495);font-family:'Liberation Sans','Noto Sans CJK JP',sans-serif;font-weight:700;color:#1f4e8c;-webkit-text-stroke:1.1px #1f4e8c;">雨</span
><span class="t" style="left:3439.0px;top:1844.2px;font-size:72.25px;transform:scaleX(0.9748);font-family:'Liberation Sans','Noto Sans CJK JP',sans-serif;font-weight:700;color:#1f4e8c;-webkit-text-stroke:1.1px #1f4e8c;">が</span
><span class="t" style="left:3515.6px;top:1844.2px;font-size:72.25px;transform:scaleX(1.0569);font-family:'Liberation Sans','Noto Sans CJK JP',sans-serif;font-weight:700;color:#1f4e8c;-webkit-text-stroke:1.1px #1f4e8c;">長時</span
><span class="t" style="left:3158.0px;top:1938.7px;font-size:72.63px;transform:scaleX(1.1193);font-family:'Liberation Sans','Noto Sans CJK JP',sans-serif;font-weight:700;color:#1f4e8c;-webkit-text-stroke:1.1px #1f4e8c;">間</span
><span class="t" style="left:3243.8px;top:1938.7px;font-size:72.63px;transform:scaleX(0.8487);font-family:'Liberation Sans','Noto Sans CJK JP',sans-serif;font-weight:700;color:#1f4e8c;-webkit-text-stroke:1.1px #1f4e8c;">にわたり</span
><span class="t" style="left:3489.7px;top:1938.7px;font-size:72.63px;transform:scaleX(1.0440);font-family:'Liberation Sans','Noto Sans CJK JP',sans-serif;font-weight:700;color:#1f4e8c;-webkit-text-stroke:1.1px #1f4e8c;">降</span
><span class="t" style="left:3568.4px;top:1938.7px;font-size:72.63px;transform:scaleX(0.7867);font-family:'Liberation Sans','Noto Sans CJK JP',sans-serif;font-weight:700;color:#1f4e8c;-webkit-text-stroke:1.1px #1f4e8c;">り</span
><span class="t" style="left:3620.9px;top:1938.7px;font-size:72.63px;transform:scaleX(0.9865);font-family:'Liberation Sans','Noto Sans CJK JP',sans-serif;font-weight:700;color:#1f4e8c;-webkit-text-stroke:1.1px #1f4e8c;">続</span
><span class="t" style="left:3152.9px;top:2029.5px;font-size:74.24px;transform:scaleX(0.8949);font-family:'Liberation Sans','Noto Sans CJK JP',sans-serif;font-weight:700;color:#1f4e8c;-webkit-text-stroke:1.1px #1f4e8c;">く</span
><span class="t" style="left:3206.5px;top:2029.5px;font-size:74.24px;transform:scaleX(1.0319);font-family:'Liberation Sans','Noto Sans CJK JP',sans-serif;font-weight:700;color:#1f4e8c;-webkit-text-stroke:1.1px #1f4e8c;">現象</span
><span class="t" style="left:3361.3px;top:2029.5px;font-size:74.24px;transform:scaleX(0.9071);font-family:'Liberation Sans','Noto Sans CJK JP',sans-serif;font-weight:700;color:#1f4e8c;-webkit-text-stroke:1.1px #1f4e8c;">です</span
><span class="t" style="left:3407.9px;top:1404.0px;font-size:45.81px;transform:scaleX(1.0719);font-family:'Liberation Sans','Noto Sans CJK JP',sans-serif;font-weight:350;color:#595959;">出典：気象庁</span
><span class="t" style="left:3184.4px;top:2300.0px;font-size:46.24px;transform:scaleX(1.0564);font-family:'Liberation Sans','Noto Sans CJK JP',sans-serif;font-weight:350;color:#595959;">出典：気象庁</span
><span class="t" style="left:1339.4px;top:2392.6px;font-size:51.51px;transform:scaleX(0.9503);font-family:'Liberation Sans','Noto Sans CJK JP',sans-serif;font-weight:350;color:#595959;">出典：気象庁</span
><span class="t" style="left:1180.6px;top:2561.0px;font-size:47.11px;transform:scaleX(0.9313);font-family:'DejaVu Sans','Liberation Sans',sans-serif;font-weight:400;color:#2a5a6e;">Copyright ©2024 , SEKISUI JUSHI Corporation&nbsp; All Right Reserved.</span
><span class="t" style="left:146.4px;top:2176.0px;font-size:32.30px;font-family:'Liberation Sans',sans-serif;font-weight:400;color:#111;">0</span
><span class="t" style="left:146.6px;top:2091.9px;font-size:32.30px;font-family:'Liberation Sans',sans-serif;font-weight:400;color:#111;">5</span
><span class="t" style="left:128.5px;top:2008.5px;font-size:32.30px;font-family:'Liberation Sans',sans-serif;font-weight:400;color:#111;">10</span
><span class="t" style="left:128.6px;top:1924.4px;font-size:32.30px;font-family:'Liberation Sans',sans-serif;font-weight:400;color:#111;">15</span
><span class="t" style="left:128.5px;top:1840.9px;font-size:32.30px;font-family:'Liberation Sans',sans-serif;font-weight:400;color:#111;">20</span
><span class="t" style="left:128.6px;top:1757.1px;font-size:32.30px;font-family:'Liberation Sans',sans-serif;font-weight:400;color:#111;">25</span
><span class="t" style="left:128.5px;top:1673.3px;font-size:32.30px;font-family:'Liberation Sans',sans-serif;font-weight:400;color:#111;">30</span
><span class="t" style="left:128.6px;top:1589.6px;font-size:32.30px;font-family:'Liberation Sans',sans-serif;font-weight:400;color:#111;">35</span
><span class="t" style="left:128.5px;top:1505.8px;font-size:32.30px;font-family:'Liberation Sans',sans-serif;font-weight:400;color:#111;">40</span
><span class="t" style="left:128.6px;top:1421.7px;font-size:32.30px;font-family:'Liberation Sans',sans-serif;font-weight:400;color:#111;">45</span
><span class="t" style="left:162.5px;top:2220.7px;font-size:33.00px;font-family:'Liberation Sans',sans-serif;font-weight:400;color:#111;">1975</span
><span class="t" style="left:305.8px;top:2220.7px;font-size:33.00px;font-family:'Liberation Sans',sans-serif;font-weight:400;color:#111;">1980</span
><span class="t" style="left:449.1px;top:2220.7px;font-size:33.00px;font-family:'Liberation Sans',sans-serif;font-weight:400;color:#111;">1985</span
><span class="t" style="left:592.4px;top:2220.7px;font-size:33.00px;font-family:'Liberation Sans',sans-serif;font-weight:400;color:#111;">1990</span
><span class="t" style="left:735.7px;top:2220.7px;font-size:33.00px;font-family:'Liberation Sans',sans-serif;font-weight:400;color:#111;">1995</span
><span class="t" style="left:879.4px;top:2220.7px;font-size:33.00px;font-family:'Liberation Sans',sans-serif;font-weight:400;color:#111;">2000</span
><span class="t" style="left:1022.6px;top:2220.7px;font-size:33.00px;font-family:'Liberation Sans',sans-serif;font-weight:400;color:#111;">2005</span
><span class="t" style="left:1165.9px;top:2220.7px;font-size:33.00px;font-family:'Liberation Sans',sans-serif;font-weight:400;color:#111;">2010</span
><span class="t" style="left:1309.2px;top:2220.7px;font-size:33.00px;font-family:'Liberation Sans',sans-serif;font-weight:400;color:#111;">2015</span
><span class="t" style="left:1452.5px;top:2220.7px;font-size:33.00px;font-family:'Liberation Sans',sans-serif;font-weight:400;color:#111;">2020</span
><span class="t" style="left:434.5px;top:1355.9px;font-size:35.48px;transform:scaleX(1.0410);font-family:'IPAGothic','Noto Sans CJK JP',monospace;font-weight:400;color:#111;">［全国アメダス］1時間降水量80mm以上の年間発生回数</span
><span class="t" style="left:238.4px;top:1462.0px;font-size:30.50px;transform:scaleX(1.0751);font-family:'IPAGothic','Noto Sans CJK JP',monospace;font-weight:400;color:#111;">トレンド=2.5 (回/10年)</span
><span class="t" style="left:1476.7px;top:1462.5px;font-size:30.00px;transform:scaleX(1.0846);font-family:'IPAGothic','Noto Sans CJK JP',monospace;font-weight:400;color:#111;">気象庁</span
><span class="t" style="left:883.9px;top:2270.2px;font-size:30.34px;transform:scaleX(0.9739);font-family:'IPAGothic','Noto Sans CJK JP',monospace;font-weight:400;color:#111;">年</span
><span class="t" style="left:53.0px;top:2076.1px;font-size:30.16px;transform:rotate(-90deg) scaleX(1.1214);font-family:'IPAGothic','Noto Sans CJK JP',monospace;color:#111">1,300地点あたりの発生回数 (回)</span
><span class="t" style="left:3097.4px;top:475.3px;font-size:51.06px;transform:scaleX(1.0648);font-family:'Liberation Sans','Noto Sans CJK JP',sans-serif;font-weight:500;color:#fff;">線状降水帯の例</span
><span class="t" style="left:2888.2px;top:566.0px;font-size:40.66px;transform:scaleX(0.9814);font-family:'IPAGothic','Noto Sans CJK JP',monospace;font-weight:400;color:#111;">令和2年7月4日6時までの3時間雨量(解析雨量)</span
><span class="t" style="left:3181.6px;top:1093.4px;font-size:33.98px;transform:scaleX(1.0818);font-family:'Liberation Sans','Noto Sans CJK JP',sans-serif;font-weight:400;color:#222;">熊本県</span
><span class="t" style="left:3290.9px;top:1093.4px;font-size:33.98px;transform:scaleX(0.9441);font-family:'Liberation Sans','Noto Sans CJK JP',sans-serif;font-weight:400;color:#222;">では、</span
><span class="t" style="left:3371.1px;top:1093.4px;font-size:33.98px;transform:scaleX(1.0565);font-family:'Liberation Sans','Noto Sans CJK JP',sans-serif;font-weight:400;color:#222;">線状降水帯</span
><span class="t" style="left:3550.7px;top:1093.4px;font-size:33.98px;transform:scaleX(0.9204);font-family:'Liberation Sans','Noto Sans CJK JP',sans-serif;font-weight:400;color:#222;">の</span
><span class="t" style="left:3583.7px;top:1093.4px;font-size:33.98px;transform:scaleX(0.9704);font-family:'Liberation Sans','Noto Sans CJK JP',sans-serif;font-weight:400;color:#222;">形</span
><span class="t" style="left:3182.2px;top:1137.9px;font-size:31.38px;transform:scaleX(1.0886);font-family:'Liberation Sans','Noto Sans CJK JP',sans-serif;font-weight:400;color:#222;">成</span
><span class="t" style="left:3207.0px;top:1137.9px;font-size:31.38px;transform:scaleX(1.2139);font-family:'Liberation Sans','Noto Sans CJK JP',sans-serif;font-weight:400;color:#222;">・</span
><span class="t" style="left:3234.5px;top:1137.9px;font-size:31.38px;transform:scaleX(1.1497);font-family:'Liberation Sans','Noto Sans CJK JP',sans-serif;font-weight:400;color:#222;">停滞</span
><span class="t" style="left:3306.2px;top:1137.9px;font-size:31.38px;transform:scaleX(1.0108);font-family:'Liberation Sans','Noto Sans CJK JP',sans-serif;font-weight:400;color:#222;">で、</span
><span class="t" style="left:3361.9px;top:1135.3px;font-size:36.20px;transform:scaleX(1.2272);font-family:'Liberation Sans','Noto Sans CJK JP',sans-serif;font-weight:400;color:#222;">3</span
><span class="t" style="left:3385.5px;top:1137.9px;font-size:31.38px;transform:scaleX(1.1966);font-family:'Liberation Sans','Noto Sans CJK JP',sans-serif;font-weight:400;color:#222;">時間</span
><span class="t" style="left:3457.6px;top:1137.9px;font-size:31.38px;transform:scaleX(0.8634);font-family:'Liberation Sans','Noto Sans CJK JP',sans-serif;font-weight:400;color:#222;">に</span
><span class="t" style="left:3483.5px;top:1137.9px;font-size:31.38px;transform:scaleX(1.1806);font-family:'Liberation Sans','Noto Sans CJK JP',sans-serif;font-weight:400;color:#222;">約</span
><span class="t" style="left:3519.9px;top:1135.3px;font-size:36.20px;transform:scaleX(1.0439);font-family:'Liberation Sans','Noto Sans CJK JP',sans-serif;font-weight:400;color:#222;">200</span
><span class="t" style="left:3584.7px;top:1137.9px;font-size:31.38px;transform:scaleX(1.0680);font-family:'Liberation Sans','Noto Sans CJK JP',sans-serif;font-weight:400;color:#222;">～</span
><span class="t" style="left:3183.0px;top:1179.8px;font-size:36.20px;transform:scaleX(1.0790);font-family:'Liberation Sans','Noto Sans CJK JP',sans-serif;font-weight:400;color:#222;">300</span
><span class="t" style="left:3245.0px;top:1181.2px;font-size:33.15px;transform:scaleX(0.7822);font-family:'Liberation Sans','Noto Sans CJK JP',sans-serif;font-weight:400;color:#222;">ミリ</span
><span class="t" style="left:3291.4px;top:1181.2px;font-size:33.15px;transform:scaleX(1.0338);font-family:'Liberation Sans','Noto Sans CJK JP',sans-serif;font-weight:400;color:#222;">を</span
><span class="t" style="left:3322.9px;top:1181.2px;font-size:33.15px;transform:scaleX(1.1233);font-family:'Liberation Sans','Noto Sans CJK JP',sans-serif;font-weight:400;color:#222;">超</span
><span class="t" style="left:3359.0px;top:1181.2px;font-size:33.15px;transform:scaleX(0.9095);font-family:'Liberation Sans','Noto Sans CJK JP',sans-serif;font-weight:400;color:#222;">える</span
><span class="t" style="left:3415.8px;top:1181.2px;font-size:33.15px;transform:scaleX(1.1133);font-family:'Liberation Sans','Noto Sans CJK JP',sans-serif;font-weight:400;color:#222;">雨量</span
><span class="t" style="left:3484.9px;top:1181.2px;font-size:33.15px;transform:scaleX(0.8032);font-family:'Liberation Sans','Noto Sans CJK JP',sans-serif;font-weight:400;color:#222;">となりました。</span
><span class="t" style="left:3528.5px;top:1305.4px;font-size:36.42px;transform:scaleX(0.9655);font-family:'IPAGothic','Noto Sans CJK JP',monospace;font-weight:400;color:#222;">(ミリ)</span
><span class="t" style="left:2894.2px;top:1295.9px;font-size:39.42px;transform:scaleX(0.7348);font-family:'Liberation Sans',sans-serif;font-weight:400;color:#111;">1</span
><span class="t" style="left:2949.0px;top:1296.4px;font-size:38.31px;transform:scaleX(1.0696);font-family:'Liberation Sans',sans-serif;font-weight:400;color:#111;">20</span
><span class="t" style="left:3019.2px;top:1296.4px;font-size:38.31px;transform:scaleX(0.9897);font-family:'Liberation Sans',sans-serif;font-weight:400;color:#111;">40</span
><span class="t" style="left:3087.5px;top:1296.4px;font-size:38.31px;transform:scaleX(1.0569);font-family:'Liberation Sans',sans-serif;font-weight:400;color:#111;">60</span
><span class="t" style="left:3155.7px;top:1296.4px;font-size:38.31px;transform:scaleX(1.0897);font-family:'Liberation Sans',sans-serif;font-weight:400;color:#111;">80</span
><span class="t" style="left:3213.9px;top:1296.4px;font-size:38.31px;transform:scaleX(1.0679);font-family:'Liberation Sans',sans-serif;font-weight:400;color:#111;">100120150 mm</span
><span class="t" style="left:2026.0px;top:1419.9px;font-size:36.99px;transform:scaleX(1.0254);font-family:'Liberation Sans','Noto Sans CJK JP',sans-serif;font-weight:400;color:#fff;">線状降水帯の代表的な発生メカニズムの模式図</span
><span class="t" style="left:1903.2px;top:1533.1px;font-size:33.45px;transform:scaleX(1.0335);font-family:'Liberation Sans','Noto Sans CJK JP',sans-serif;font-weight:400;color:#222;">④上空の風の影響で積乱雲</span
><span class="t" style="left:1924.3px;top:1576.9px;font-size:33.63px;transform:scaleX(1.0036);font-family:'Liberation Sans','Noto Sans CJK JP',sans-serif;font-weight:400;color:#222;">や積乱雲群が線状に並ぶ</span
><span class="t" style="left:1815.1px;top:1787.8px;font-size:33.45px;transform:scaleX(1.0405);font-family:'Liberation Sans','Noto Sans CJK JP',sans-serif;font-weight:400;color:#222;">③大気の状態が不安定で湿</span
><span class="t" style="left:1836.9px;top:1830.3px;font-size:33.63px;transform:scaleX(1.0330);font-family:'Liberation Sans','Noto Sans CJK JP',sans-serif;font-weight:400;color:#222;">潤な中で積乱雲が発達</span
><span class="t" style="left:2365.4px;top:2097.1px;font-size:35.45px;transform:scaleX(0.9487);font-family:'Liberation Sans','Noto Sans CJK JP',sans-serif;font-weight:400;color:#222;">②局地的な前線や地形などの影響で</span
><span class="t" style="left:2386.6px;top:2141.6px;font-size:34.97px;transform:scaleX(0.9452);font-family:'Liberation Sans','Noto Sans CJK JP',sans-serif;font-weight:400;color:#222;">空気が持ち上がり雲が発生</span
><span class="t" style="left:1793.1px;top:2157.5px;font-size:34.79px;transform:scaleX(0.9687);font-family:'Liberation Sans','Noto Sans CJK JP',sans-serif;font-weight:400;color:#222;">①低層を中心に大量の暖かく</span
><span class="t" style="left:1815.0px;top:2199.5px;font-size:33.63px;transform:scaleX(0.9923);font-family:'Liberation Sans','Noto Sans CJK JP',sans-serif;font-weight:400;color:#222;">湿った空気の流入が持続</span
><span class="t" style="left:2697.6px;top:1982.4px;font-size:35.5px;transform-origin:138.4px 16.6px;transform:rotate(-6.8deg) scaleX(0.9762);color:#222">線状の強い降水域</span
><span class="t" style="left:3213.9px;top:66.9px;font-size:66.76px;transform:scaleX(1.0537);font-family:'Liberation Sans',sans-serif;font-weight:700;color:#fff;">SEKISUI</span
><span class="t" style="left:3211.0px;top:124.5px;font-size:86.86px;transform:scaleX(1.3404);font-family:'Liberation Sans',sans-serif;font-weight:700;color:#fff;">J</span
><span class="t" style="left:3275.4px;top:125.6px;font-size:85.63px;transform:scaleX(1.0811);font-family:'Liberation Sans',sans-serif;font-weight:700;color:#fff;">USHI</span
><span class="t" style="left:3582.7px;top:83.9px;font-size:107.26px;transform:scaleX(1.0325);font-family:'DejaVu Sans','Liberation Sans',sans-serif;font-weight:700;color:#fff;">4</span
>
</body></html>
